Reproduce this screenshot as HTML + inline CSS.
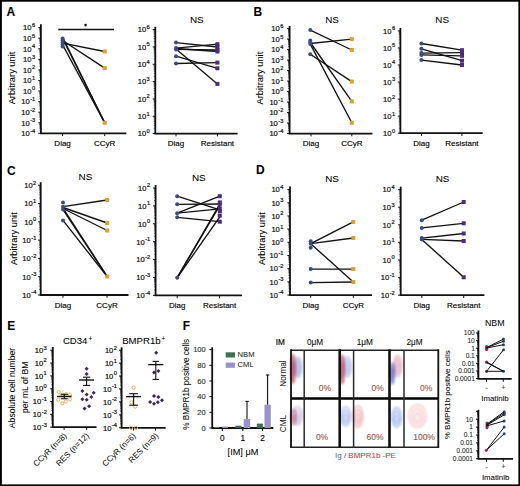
<!DOCTYPE html>
<html><head><meta charset="utf-8"><style>
html,body{margin:0;padding:0;background:#fff;}
svg{display:block;font-family:"Liberation Sans",sans-serif;}
</style></head><body>
<svg width="520" height="486" viewBox="0 0 520 486">
<rect width="520" height="486" fill="#fff"/>
<rect x="0" y="0" width="520" height="1.7" fill="#000"/><rect x="0" y="0" width="1.9" height="486" fill="#000"/><rect x="518.4" y="0" width="1.6" height="486" fill="#000"/><rect x="0" y="484.4" width="520" height="1.6" fill="#000"/>
<text x="6.60" y="15.60" font-size="12" text-anchor="start" fill="#000" font-weight="bold" stroke="#000" stroke-width="0.06" >A</text>
<text x="253.60" y="15.60" font-size="12" text-anchor="start" fill="#000" font-weight="bold" stroke="#000" stroke-width="0.06" >B</text>
<text x="7.00" y="174.80" font-size="12" text-anchor="start" fill="#000" font-weight="bold" stroke="#000" stroke-width="0.06" >C</text>
<text x="256.00" y="174.30" font-size="12" text-anchor="start" fill="#000" font-weight="bold" stroke="#000" stroke-width="0.06" >D</text>
<text x="7.30" y="329.90" font-size="12" text-anchor="start" fill="#000" font-weight="bold" stroke="#000" stroke-width="0.06" >E</text>
<text x="182.80" y="329.90" font-size="12" text-anchor="start" fill="#000" font-weight="bold" stroke="#000" stroke-width="0.06" >F</text>
<text transform="translate(14.80,78.00) rotate(-90)" font-size="9.3" text-anchor="middle" fill="#000" stroke="#000" stroke-width="0.05">Arbitrary unit</text>
<line x1="40.90" y1="24.30" x2="40.90" y2="133.30" stroke="#111" stroke-width="1.8"/>
<line x1="39.30" y1="34.99" x2="40.90" y2="34.99" stroke="#111" stroke-width="0.6"/>
<line x1="39.30" y1="33.13" x2="40.90" y2="33.13" stroke="#111" stroke-width="0.6"/>
<line x1="39.30" y1="31.81" x2="40.90" y2="31.81" stroke="#111" stroke-width="0.6"/>
<line x1="39.30" y1="30.78" x2="40.90" y2="30.78" stroke="#111" stroke-width="0.6"/>
<line x1="39.30" y1="29.94" x2="40.90" y2="29.94" stroke="#111" stroke-width="0.6"/>
<line x1="39.30" y1="29.24" x2="40.90" y2="29.24" stroke="#111" stroke-width="0.6"/>
<line x1="39.30" y1="28.62" x2="40.90" y2="28.62" stroke="#111" stroke-width="0.6"/>
<line x1="39.30" y1="28.08" x2="40.90" y2="28.08" stroke="#111" stroke-width="0.6"/>
<line x1="39.30" y1="45.56" x2="40.90" y2="45.56" stroke="#111" stroke-width="0.6"/>
<line x1="39.30" y1="43.70" x2="40.90" y2="43.70" stroke="#111" stroke-width="0.6"/>
<line x1="39.30" y1="42.38" x2="40.90" y2="42.38" stroke="#111" stroke-width="0.6"/>
<line x1="39.30" y1="41.35" x2="40.90" y2="41.35" stroke="#111" stroke-width="0.6"/>
<line x1="39.30" y1="40.51" x2="40.90" y2="40.51" stroke="#111" stroke-width="0.6"/>
<line x1="39.30" y1="39.81" x2="40.90" y2="39.81" stroke="#111" stroke-width="0.6"/>
<line x1="39.30" y1="39.19" x2="40.90" y2="39.19" stroke="#111" stroke-width="0.6"/>
<line x1="39.30" y1="38.65" x2="40.90" y2="38.65" stroke="#111" stroke-width="0.6"/>
<line x1="39.30" y1="56.13" x2="40.90" y2="56.13" stroke="#111" stroke-width="0.6"/>
<line x1="39.30" y1="54.27" x2="40.90" y2="54.27" stroke="#111" stroke-width="0.6"/>
<line x1="39.30" y1="52.95" x2="40.90" y2="52.95" stroke="#111" stroke-width="0.6"/>
<line x1="39.30" y1="51.92" x2="40.90" y2="51.92" stroke="#111" stroke-width="0.6"/>
<line x1="39.30" y1="51.08" x2="40.90" y2="51.08" stroke="#111" stroke-width="0.6"/>
<line x1="39.30" y1="50.38" x2="40.90" y2="50.38" stroke="#111" stroke-width="0.6"/>
<line x1="39.30" y1="49.76" x2="40.90" y2="49.76" stroke="#111" stroke-width="0.6"/>
<line x1="39.30" y1="49.22" x2="40.90" y2="49.22" stroke="#111" stroke-width="0.6"/>
<line x1="39.30" y1="66.70" x2="40.90" y2="66.70" stroke="#111" stroke-width="0.6"/>
<line x1="39.30" y1="64.84" x2="40.90" y2="64.84" stroke="#111" stroke-width="0.6"/>
<line x1="39.30" y1="63.52" x2="40.90" y2="63.52" stroke="#111" stroke-width="0.6"/>
<line x1="39.30" y1="62.49" x2="40.90" y2="62.49" stroke="#111" stroke-width="0.6"/>
<line x1="39.30" y1="61.65" x2="40.90" y2="61.65" stroke="#111" stroke-width="0.6"/>
<line x1="39.30" y1="60.95" x2="40.90" y2="60.95" stroke="#111" stroke-width="0.6"/>
<line x1="39.30" y1="60.33" x2="40.90" y2="60.33" stroke="#111" stroke-width="0.6"/>
<line x1="39.30" y1="59.79" x2="40.90" y2="59.79" stroke="#111" stroke-width="0.6"/>
<line x1="39.30" y1="77.27" x2="40.90" y2="77.27" stroke="#111" stroke-width="0.6"/>
<line x1="39.30" y1="75.41" x2="40.90" y2="75.41" stroke="#111" stroke-width="0.6"/>
<line x1="39.30" y1="74.09" x2="40.90" y2="74.09" stroke="#111" stroke-width="0.6"/>
<line x1="39.30" y1="73.06" x2="40.90" y2="73.06" stroke="#111" stroke-width="0.6"/>
<line x1="39.30" y1="72.22" x2="40.90" y2="72.22" stroke="#111" stroke-width="0.6"/>
<line x1="39.30" y1="71.52" x2="40.90" y2="71.52" stroke="#111" stroke-width="0.6"/>
<line x1="39.30" y1="70.90" x2="40.90" y2="70.90" stroke="#111" stroke-width="0.6"/>
<line x1="39.30" y1="70.36" x2="40.90" y2="70.36" stroke="#111" stroke-width="0.6"/>
<line x1="39.30" y1="87.84" x2="40.90" y2="87.84" stroke="#111" stroke-width="0.6"/>
<line x1="39.30" y1="85.98" x2="40.90" y2="85.98" stroke="#111" stroke-width="0.6"/>
<line x1="39.30" y1="84.66" x2="40.90" y2="84.66" stroke="#111" stroke-width="0.6"/>
<line x1="39.30" y1="83.63" x2="40.90" y2="83.63" stroke="#111" stroke-width="0.6"/>
<line x1="39.30" y1="82.79" x2="40.90" y2="82.79" stroke="#111" stroke-width="0.6"/>
<line x1="39.30" y1="82.09" x2="40.90" y2="82.09" stroke="#111" stroke-width="0.6"/>
<line x1="39.30" y1="81.47" x2="40.90" y2="81.47" stroke="#111" stroke-width="0.6"/>
<line x1="39.30" y1="80.93" x2="40.90" y2="80.93" stroke="#111" stroke-width="0.6"/>
<line x1="39.30" y1="98.41" x2="40.90" y2="98.41" stroke="#111" stroke-width="0.6"/>
<line x1="39.30" y1="96.55" x2="40.90" y2="96.55" stroke="#111" stroke-width="0.6"/>
<line x1="39.30" y1="95.23" x2="40.90" y2="95.23" stroke="#111" stroke-width="0.6"/>
<line x1="39.30" y1="94.20" x2="40.90" y2="94.20" stroke="#111" stroke-width="0.6"/>
<line x1="39.30" y1="93.36" x2="40.90" y2="93.36" stroke="#111" stroke-width="0.6"/>
<line x1="39.30" y1="92.66" x2="40.90" y2="92.66" stroke="#111" stroke-width="0.6"/>
<line x1="39.30" y1="92.04" x2="40.90" y2="92.04" stroke="#111" stroke-width="0.6"/>
<line x1="39.30" y1="91.50" x2="40.90" y2="91.50" stroke="#111" stroke-width="0.6"/>
<line x1="39.30" y1="108.98" x2="40.90" y2="108.98" stroke="#111" stroke-width="0.6"/>
<line x1="39.30" y1="107.12" x2="40.90" y2="107.12" stroke="#111" stroke-width="0.6"/>
<line x1="39.30" y1="105.80" x2="40.90" y2="105.80" stroke="#111" stroke-width="0.6"/>
<line x1="39.30" y1="104.77" x2="40.90" y2="104.77" stroke="#111" stroke-width="0.6"/>
<line x1="39.30" y1="103.93" x2="40.90" y2="103.93" stroke="#111" stroke-width="0.6"/>
<line x1="39.30" y1="103.23" x2="40.90" y2="103.23" stroke="#111" stroke-width="0.6"/>
<line x1="39.30" y1="102.61" x2="40.90" y2="102.61" stroke="#111" stroke-width="0.6"/>
<line x1="39.30" y1="102.07" x2="40.90" y2="102.07" stroke="#111" stroke-width="0.6"/>
<line x1="39.30" y1="119.55" x2="40.90" y2="119.55" stroke="#111" stroke-width="0.6"/>
<line x1="39.30" y1="117.69" x2="40.90" y2="117.69" stroke="#111" stroke-width="0.6"/>
<line x1="39.30" y1="116.37" x2="40.90" y2="116.37" stroke="#111" stroke-width="0.6"/>
<line x1="39.30" y1="115.34" x2="40.90" y2="115.34" stroke="#111" stroke-width="0.6"/>
<line x1="39.30" y1="114.50" x2="40.90" y2="114.50" stroke="#111" stroke-width="0.6"/>
<line x1="39.30" y1="113.80" x2="40.90" y2="113.80" stroke="#111" stroke-width="0.6"/>
<line x1="39.30" y1="113.18" x2="40.90" y2="113.18" stroke="#111" stroke-width="0.6"/>
<line x1="39.30" y1="112.64" x2="40.90" y2="112.64" stroke="#111" stroke-width="0.6"/>
<line x1="39.30" y1="130.12" x2="40.90" y2="130.12" stroke="#111" stroke-width="0.6"/>
<line x1="39.30" y1="128.26" x2="40.90" y2="128.26" stroke="#111" stroke-width="0.6"/>
<line x1="39.30" y1="126.94" x2="40.90" y2="126.94" stroke="#111" stroke-width="0.6"/>
<line x1="39.30" y1="125.91" x2="40.90" y2="125.91" stroke="#111" stroke-width="0.6"/>
<line x1="39.30" y1="125.07" x2="40.90" y2="125.07" stroke="#111" stroke-width="0.6"/>
<line x1="39.30" y1="124.37" x2="40.90" y2="124.37" stroke="#111" stroke-width="0.6"/>
<line x1="39.30" y1="123.75" x2="40.90" y2="123.75" stroke="#111" stroke-width="0.6"/>
<line x1="39.30" y1="123.21" x2="40.90" y2="123.21" stroke="#111" stroke-width="0.6"/>
<line x1="38.30" y1="27.60" x2="40.90" y2="27.60" stroke="#111" stroke-width="1.0"/>
<text transform="translate(35.20,30.40) scale(0.95,1)" font-size="8.0" text-anchor="end" fill="#111" stroke="#111" stroke-width="0.22">10<tspan dx="0.5" dy="-3.4" font-size="6.0">6</tspan></text>
<line x1="38.30" y1="38.17" x2="40.90" y2="38.17" stroke="#111" stroke-width="1.0"/>
<text transform="translate(35.20,40.97) scale(0.95,1)" font-size="8.0" text-anchor="end" fill="#111" stroke="#111" stroke-width="0.22">10<tspan dx="0.5" dy="-3.4" font-size="6.0">5</tspan></text>
<line x1="38.30" y1="48.74" x2="40.90" y2="48.74" stroke="#111" stroke-width="1.0"/>
<text transform="translate(35.20,51.54) scale(0.95,1)" font-size="8.0" text-anchor="end" fill="#111" stroke="#111" stroke-width="0.22">10<tspan dx="0.5" dy="-3.4" font-size="6.0">4</tspan></text>
<line x1="38.30" y1="59.31" x2="40.90" y2="59.31" stroke="#111" stroke-width="1.0"/>
<text transform="translate(35.20,62.11) scale(0.95,1)" font-size="8.0" text-anchor="end" fill="#111" stroke="#111" stroke-width="0.22">10<tspan dx="0.5" dy="-3.4" font-size="6.0">3</tspan></text>
<line x1="38.30" y1="69.88" x2="40.90" y2="69.88" stroke="#111" stroke-width="1.0"/>
<text transform="translate(35.20,72.68) scale(0.95,1)" font-size="8.0" text-anchor="end" fill="#111" stroke="#111" stroke-width="0.22">10<tspan dx="0.5" dy="-3.4" font-size="6.0">2</tspan></text>
<line x1="38.30" y1="80.45" x2="40.90" y2="80.45" stroke="#111" stroke-width="1.0"/>
<text transform="translate(35.20,83.25) scale(0.95,1)" font-size="8.0" text-anchor="end" fill="#111" stroke="#111" stroke-width="0.22">10<tspan dx="0.5" dy="-3.4" font-size="6.0">1</tspan></text>
<line x1="38.30" y1="91.02" x2="40.90" y2="91.02" stroke="#111" stroke-width="1.0"/>
<text transform="translate(35.20,93.82) scale(0.95,1)" font-size="8.0" text-anchor="end" fill="#111" stroke="#111" stroke-width="0.22">10<tspan dx="0.5" dy="-3.4" font-size="6.0">0</tspan></text>
<line x1="38.30" y1="101.59" x2="40.90" y2="101.59" stroke="#111" stroke-width="1.0"/>
<text transform="translate(35.20,104.39) scale(0.95,1)" font-size="8.0" text-anchor="end" fill="#111" stroke="#111" stroke-width="0.22">10<tspan dx="0.5" dy="-3.4" font-size="6.0">-1</tspan></text>
<line x1="38.30" y1="112.16" x2="40.90" y2="112.16" stroke="#111" stroke-width="1.0"/>
<text transform="translate(35.20,114.96) scale(0.95,1)" font-size="8.0" text-anchor="end" fill="#111" stroke="#111" stroke-width="0.22">10<tspan dx="0.5" dy="-3.4" font-size="6.0">-2</tspan></text>
<line x1="38.30" y1="122.73" x2="40.90" y2="122.73" stroke="#111" stroke-width="1.0"/>
<text transform="translate(35.20,125.53) scale(0.95,1)" font-size="8.0" text-anchor="end" fill="#111" stroke="#111" stroke-width="0.22">10<tspan dx="0.5" dy="-3.4" font-size="6.0">-3</tspan></text>
<line x1="38.30" y1="133.30" x2="40.90" y2="133.30" stroke="#111" stroke-width="1.0"/>
<text transform="translate(35.20,136.10) scale(0.95,1)" font-size="8.0" text-anchor="end" fill="#111" stroke="#111" stroke-width="0.22">10<tspan dx="0.5" dy="-3.4" font-size="6.0">-4</tspan></text>
<line x1="40.00" y1="133.30" x2="126.30" y2="133.30" stroke="#111" stroke-width="1.8"/>
<line x1="62.60" y1="133.30" x2="62.60" y2="136.10" stroke="#111" stroke-width="1.0"/>
<text x="62.60" y="146.30" font-size="8" text-anchor="middle" fill="#000" font-weight="normal" stroke="#000" stroke-width="0.14" >Diag</text>
<line x1="104.70" y1="133.30" x2="104.70" y2="136.10" stroke="#111" stroke-width="1.0"/>
<text x="104.70" y="146.30" font-size="8" text-anchor="middle" fill="#000" font-weight="normal" stroke="#000" stroke-width="0.14" >CCyR</text>
<line x1="58.30" y1="29.50" x2="114.00" y2="29.50" stroke="#111" stroke-width="1.4"/>
<circle cx="85.60" cy="25.10" r="1.3" fill="#111"/>
<line x1="62.60" y1="43.20" x2="104.70" y2="51.50" stroke="#111" stroke-width="1.35"/>
<line x1="62.60" y1="40.50" x2="104.70" y2="68.10" stroke="#111" stroke-width="1.35"/>
<line x1="62.60" y1="37.20" x2="104.70" y2="122.80" stroke="#111" stroke-width="1.35"/>
<line x1="62.60" y1="38.40" x2="104.70" y2="122.80" stroke="#111" stroke-width="1.35"/>
<line x1="62.60" y1="44.90" x2="104.70" y2="122.80" stroke="#111" stroke-width="1.35"/>
<circle cx="62.60" cy="38.50" r="2.0" fill="#3b4d7e"/>
<circle cx="62.60" cy="40.50" r="2.0" fill="#3b4d7e"/>
<circle cx="62.60" cy="42.50" r="2.0" fill="#3b4d7e"/>
<circle cx="62.60" cy="44.50" r="2.0" fill="#3b4d7e"/>
<circle cx="62.60" cy="46.50" r="2.0" fill="#3b4d7e"/>
<rect x="102.70" y="49.50" width="4.0" height="4.0" fill="#d9a033"/>
<rect x="102.70" y="66.10" width="4.0" height="4.0" fill="#d9a033"/>
<rect x="102.70" y="120.80" width="4.0" height="4.0" fill="#d9a033"/>
<line x1="155.30" y1="26.80" x2="155.30" y2="133.58" stroke="#111" stroke-width="1.8"/>
<line x1="153.70" y1="41.71" x2="155.30" y2="41.71" stroke="#111" stroke-width="0.6"/>
<line x1="153.70" y1="38.66" x2="155.30" y2="38.66" stroke="#111" stroke-width="0.6"/>
<line x1="153.70" y1="36.50" x2="155.30" y2="36.50" stroke="#111" stroke-width="0.6"/>
<line x1="153.70" y1="34.82" x2="155.30" y2="34.82" stroke="#111" stroke-width="0.6"/>
<line x1="153.70" y1="33.44" x2="155.30" y2="33.44" stroke="#111" stroke-width="0.6"/>
<line x1="153.70" y1="32.28" x2="155.30" y2="32.28" stroke="#111" stroke-width="0.6"/>
<line x1="153.70" y1="31.28" x2="155.30" y2="31.28" stroke="#111" stroke-width="0.6"/>
<line x1="153.70" y1="30.39" x2="155.30" y2="30.39" stroke="#111" stroke-width="0.6"/>
<line x1="153.70" y1="59.04" x2="155.30" y2="59.04" stroke="#111" stroke-width="0.6"/>
<line x1="153.70" y1="55.99" x2="155.30" y2="55.99" stroke="#111" stroke-width="0.6"/>
<line x1="153.70" y1="53.83" x2="155.30" y2="53.83" stroke="#111" stroke-width="0.6"/>
<line x1="153.70" y1="52.15" x2="155.30" y2="52.15" stroke="#111" stroke-width="0.6"/>
<line x1="153.70" y1="50.77" x2="155.30" y2="50.77" stroke="#111" stroke-width="0.6"/>
<line x1="153.70" y1="49.61" x2="155.30" y2="49.61" stroke="#111" stroke-width="0.6"/>
<line x1="153.70" y1="48.61" x2="155.30" y2="48.61" stroke="#111" stroke-width="0.6"/>
<line x1="153.70" y1="47.72" x2="155.30" y2="47.72" stroke="#111" stroke-width="0.6"/>
<line x1="153.70" y1="76.37" x2="155.30" y2="76.37" stroke="#111" stroke-width="0.6"/>
<line x1="153.70" y1="73.32" x2="155.30" y2="73.32" stroke="#111" stroke-width="0.6"/>
<line x1="153.70" y1="71.16" x2="155.30" y2="71.16" stroke="#111" stroke-width="0.6"/>
<line x1="153.70" y1="69.48" x2="155.30" y2="69.48" stroke="#111" stroke-width="0.6"/>
<line x1="153.70" y1="68.10" x2="155.30" y2="68.10" stroke="#111" stroke-width="0.6"/>
<line x1="153.70" y1="66.94" x2="155.30" y2="66.94" stroke="#111" stroke-width="0.6"/>
<line x1="153.70" y1="65.94" x2="155.30" y2="65.94" stroke="#111" stroke-width="0.6"/>
<line x1="153.70" y1="65.05" x2="155.30" y2="65.05" stroke="#111" stroke-width="0.6"/>
<line x1="153.70" y1="93.70" x2="155.30" y2="93.70" stroke="#111" stroke-width="0.6"/>
<line x1="153.70" y1="90.65" x2="155.30" y2="90.65" stroke="#111" stroke-width="0.6"/>
<line x1="153.70" y1="88.49" x2="155.30" y2="88.49" stroke="#111" stroke-width="0.6"/>
<line x1="153.70" y1="86.81" x2="155.30" y2="86.81" stroke="#111" stroke-width="0.6"/>
<line x1="153.70" y1="85.43" x2="155.30" y2="85.43" stroke="#111" stroke-width="0.6"/>
<line x1="153.70" y1="84.27" x2="155.30" y2="84.27" stroke="#111" stroke-width="0.6"/>
<line x1="153.70" y1="83.27" x2="155.30" y2="83.27" stroke="#111" stroke-width="0.6"/>
<line x1="153.70" y1="82.38" x2="155.30" y2="82.38" stroke="#111" stroke-width="0.6"/>
<line x1="153.70" y1="111.03" x2="155.30" y2="111.03" stroke="#111" stroke-width="0.6"/>
<line x1="153.70" y1="107.98" x2="155.30" y2="107.98" stroke="#111" stroke-width="0.6"/>
<line x1="153.70" y1="105.82" x2="155.30" y2="105.82" stroke="#111" stroke-width="0.6"/>
<line x1="153.70" y1="104.14" x2="155.30" y2="104.14" stroke="#111" stroke-width="0.6"/>
<line x1="153.70" y1="102.76" x2="155.30" y2="102.76" stroke="#111" stroke-width="0.6"/>
<line x1="153.70" y1="101.60" x2="155.30" y2="101.60" stroke="#111" stroke-width="0.6"/>
<line x1="153.70" y1="100.60" x2="155.30" y2="100.60" stroke="#111" stroke-width="0.6"/>
<line x1="153.70" y1="99.71" x2="155.30" y2="99.71" stroke="#111" stroke-width="0.6"/>
<line x1="153.70" y1="128.36" x2="155.30" y2="128.36" stroke="#111" stroke-width="0.6"/>
<line x1="153.70" y1="125.31" x2="155.30" y2="125.31" stroke="#111" stroke-width="0.6"/>
<line x1="153.70" y1="123.15" x2="155.30" y2="123.15" stroke="#111" stroke-width="0.6"/>
<line x1="153.70" y1="121.47" x2="155.30" y2="121.47" stroke="#111" stroke-width="0.6"/>
<line x1="153.70" y1="120.09" x2="155.30" y2="120.09" stroke="#111" stroke-width="0.6"/>
<line x1="153.70" y1="118.93" x2="155.30" y2="118.93" stroke="#111" stroke-width="0.6"/>
<line x1="153.70" y1="117.93" x2="155.30" y2="117.93" stroke="#111" stroke-width="0.6"/>
<line x1="153.70" y1="117.04" x2="155.30" y2="117.04" stroke="#111" stroke-width="0.6"/>
<line x1="152.70" y1="29.60" x2="155.30" y2="29.60" stroke="#111" stroke-width="1.0"/>
<text transform="translate(149.80,32.40) scale(0.95,1)" font-size="8.0" text-anchor="end" fill="#111" stroke="#111" stroke-width="0.22">10<tspan dx="0.5" dy="-3.4" font-size="6.0">6</tspan></text>
<line x1="152.70" y1="46.93" x2="155.30" y2="46.93" stroke="#111" stroke-width="1.0"/>
<text transform="translate(149.80,49.73) scale(0.95,1)" font-size="8.0" text-anchor="end" fill="#111" stroke="#111" stroke-width="0.22">10<tspan dx="0.5" dy="-3.4" font-size="6.0">5</tspan></text>
<line x1="152.70" y1="64.26" x2="155.30" y2="64.26" stroke="#111" stroke-width="1.0"/>
<text transform="translate(149.80,67.06) scale(0.95,1)" font-size="8.0" text-anchor="end" fill="#111" stroke="#111" stroke-width="0.22">10<tspan dx="0.5" dy="-3.4" font-size="6.0">4</tspan></text>
<line x1="152.70" y1="81.59" x2="155.30" y2="81.59" stroke="#111" stroke-width="1.0"/>
<text transform="translate(149.80,84.39) scale(0.95,1)" font-size="8.0" text-anchor="end" fill="#111" stroke="#111" stroke-width="0.22">10<tspan dx="0.5" dy="-3.4" font-size="6.0">3</tspan></text>
<line x1="152.70" y1="98.92" x2="155.30" y2="98.92" stroke="#111" stroke-width="1.0"/>
<text transform="translate(149.80,101.72) scale(0.95,1)" font-size="8.0" text-anchor="end" fill="#111" stroke="#111" stroke-width="0.22">10<tspan dx="0.5" dy="-3.4" font-size="6.0">2</tspan></text>
<line x1="152.70" y1="116.25" x2="155.30" y2="116.25" stroke="#111" stroke-width="1.0"/>
<text transform="translate(149.80,119.05) scale(0.95,1)" font-size="8.0" text-anchor="end" fill="#111" stroke="#111" stroke-width="0.22">10<tspan dx="0.5" dy="-3.4" font-size="6.0">1</tspan></text>
<line x1="152.70" y1="133.58" x2="155.30" y2="133.58" stroke="#111" stroke-width="1.0"/>
<text transform="translate(149.80,136.38) scale(0.95,1)" font-size="8.0" text-anchor="end" fill="#111" stroke="#111" stroke-width="0.22">10<tspan dx="0.5" dy="-3.4" font-size="6.0">0</tspan></text>
<line x1="154.40" y1="133.58" x2="237.60" y2="133.58" stroke="#111" stroke-width="1.8"/>
<line x1="176.00" y1="133.58" x2="176.00" y2="136.38" stroke="#111" stroke-width="1.0"/>
<text x="176.00" y="146.30" font-size="8" text-anchor="middle" fill="#000" font-weight="normal" stroke="#000" stroke-width="0.14" >Diag</text>
<line x1="217.40" y1="133.58" x2="217.40" y2="136.38" stroke="#111" stroke-width="1.0"/>
<text x="217.40" y="146.30" font-size="8" text-anchor="middle" fill="#000" font-weight="normal" stroke="#000" stroke-width="0.14" >Resistant</text>
<text x="196.80" y="22.80" font-size="9.9" text-anchor="middle" fill="#000" font-weight="normal" stroke="#000" stroke-width="0.06" >NS</text>
<line x1="176.00" y1="42.60" x2="217.40" y2="47.00" stroke="#111" stroke-width="1.35"/>
<line x1="176.00" y1="48.10" x2="217.40" y2="44.20" stroke="#111" stroke-width="1.35"/>
<line x1="176.00" y1="49.40" x2="217.40" y2="50.00" stroke="#111" stroke-width="1.35"/>
<line x1="176.00" y1="56.20" x2="217.40" y2="68.30" stroke="#111" stroke-width="1.35"/>
<line x1="176.00" y1="63.50" x2="217.40" y2="62.60" stroke="#111" stroke-width="1.35"/>
<line x1="176.00" y1="49.00" x2="217.40" y2="83.90" stroke="#111" stroke-width="1.35"/>
<line x1="176.00" y1="48.50" x2="217.40" y2="51.50" stroke="#111" stroke-width="1.35"/>
<circle cx="176.00" cy="42.60" r="2.0" fill="#3b4d7e"/>
<circle cx="176.00" cy="48.10" r="2.0" fill="#3b4d7e"/>
<circle cx="176.00" cy="49.40" r="2.0" fill="#3b4d7e"/>
<circle cx="176.00" cy="56.20" r="2.0" fill="#3b4d7e"/>
<circle cx="176.00" cy="63.50" r="2.0" fill="#3b4d7e"/>
<rect x="215.40" y="42.20" width="4.0" height="4.0" fill="#4c2c7e"/>
<rect x="215.40" y="45.00" width="4.0" height="4.0" fill="#4c2c7e"/>
<rect x="215.40" y="48.00" width="4.0" height="4.0" fill="#4c2c7e"/>
<rect x="215.40" y="49.50" width="4.0" height="4.0" fill="#4c2c7e"/>
<rect x="215.40" y="60.60" width="4.0" height="4.0" fill="#4c2c7e"/>
<rect x="215.40" y="66.30" width="4.0" height="4.0" fill="#4c2c7e"/>
<rect x="215.40" y="81.90" width="4.0" height="4.0" fill="#4c2c7e"/>
<text transform="translate(262.50,78.10) rotate(-90)" font-size="9.3" text-anchor="middle" fill="#000" stroke="#000" stroke-width="0.05">Arbitrary unit</text>
<line x1="289.60" y1="26.00" x2="289.60" y2="133.60" stroke="#111" stroke-width="1.8"/>
<line x1="288.00" y1="35.94" x2="289.60" y2="35.94" stroke="#111" stroke-width="0.6"/>
<line x1="288.00" y1="34.09" x2="289.60" y2="34.09" stroke="#111" stroke-width="0.6"/>
<line x1="288.00" y1="32.78" x2="289.60" y2="32.78" stroke="#111" stroke-width="0.6"/>
<line x1="288.00" y1="31.76" x2="289.60" y2="31.76" stroke="#111" stroke-width="0.6"/>
<line x1="288.00" y1="30.93" x2="289.60" y2="30.93" stroke="#111" stroke-width="0.6"/>
<line x1="288.00" y1="30.23" x2="289.60" y2="30.23" stroke="#111" stroke-width="0.6"/>
<line x1="288.00" y1="29.62" x2="289.60" y2="29.62" stroke="#111" stroke-width="0.6"/>
<line x1="288.00" y1="29.08" x2="289.60" y2="29.08" stroke="#111" stroke-width="0.6"/>
<line x1="288.00" y1="46.44" x2="289.60" y2="46.44" stroke="#111" stroke-width="0.6"/>
<line x1="288.00" y1="44.59" x2="289.60" y2="44.59" stroke="#111" stroke-width="0.6"/>
<line x1="288.00" y1="43.28" x2="289.60" y2="43.28" stroke="#111" stroke-width="0.6"/>
<line x1="288.00" y1="42.26" x2="289.60" y2="42.26" stroke="#111" stroke-width="0.6"/>
<line x1="288.00" y1="41.43" x2="289.60" y2="41.43" stroke="#111" stroke-width="0.6"/>
<line x1="288.00" y1="40.73" x2="289.60" y2="40.73" stroke="#111" stroke-width="0.6"/>
<line x1="288.00" y1="40.12" x2="289.60" y2="40.12" stroke="#111" stroke-width="0.6"/>
<line x1="288.00" y1="39.58" x2="289.60" y2="39.58" stroke="#111" stroke-width="0.6"/>
<line x1="288.00" y1="56.94" x2="289.60" y2="56.94" stroke="#111" stroke-width="0.6"/>
<line x1="288.00" y1="55.09" x2="289.60" y2="55.09" stroke="#111" stroke-width="0.6"/>
<line x1="288.00" y1="53.78" x2="289.60" y2="53.78" stroke="#111" stroke-width="0.6"/>
<line x1="288.00" y1="52.76" x2="289.60" y2="52.76" stroke="#111" stroke-width="0.6"/>
<line x1="288.00" y1="51.93" x2="289.60" y2="51.93" stroke="#111" stroke-width="0.6"/>
<line x1="288.00" y1="51.23" x2="289.60" y2="51.23" stroke="#111" stroke-width="0.6"/>
<line x1="288.00" y1="50.62" x2="289.60" y2="50.62" stroke="#111" stroke-width="0.6"/>
<line x1="288.00" y1="50.08" x2="289.60" y2="50.08" stroke="#111" stroke-width="0.6"/>
<line x1="288.00" y1="67.44" x2="289.60" y2="67.44" stroke="#111" stroke-width="0.6"/>
<line x1="288.00" y1="65.59" x2="289.60" y2="65.59" stroke="#111" stroke-width="0.6"/>
<line x1="288.00" y1="64.28" x2="289.60" y2="64.28" stroke="#111" stroke-width="0.6"/>
<line x1="288.00" y1="63.26" x2="289.60" y2="63.26" stroke="#111" stroke-width="0.6"/>
<line x1="288.00" y1="62.43" x2="289.60" y2="62.43" stroke="#111" stroke-width="0.6"/>
<line x1="288.00" y1="61.73" x2="289.60" y2="61.73" stroke="#111" stroke-width="0.6"/>
<line x1="288.00" y1="61.12" x2="289.60" y2="61.12" stroke="#111" stroke-width="0.6"/>
<line x1="288.00" y1="60.58" x2="289.60" y2="60.58" stroke="#111" stroke-width="0.6"/>
<line x1="288.00" y1="77.94" x2="289.60" y2="77.94" stroke="#111" stroke-width="0.6"/>
<line x1="288.00" y1="76.09" x2="289.60" y2="76.09" stroke="#111" stroke-width="0.6"/>
<line x1="288.00" y1="74.78" x2="289.60" y2="74.78" stroke="#111" stroke-width="0.6"/>
<line x1="288.00" y1="73.76" x2="289.60" y2="73.76" stroke="#111" stroke-width="0.6"/>
<line x1="288.00" y1="72.93" x2="289.60" y2="72.93" stroke="#111" stroke-width="0.6"/>
<line x1="288.00" y1="72.23" x2="289.60" y2="72.23" stroke="#111" stroke-width="0.6"/>
<line x1="288.00" y1="71.62" x2="289.60" y2="71.62" stroke="#111" stroke-width="0.6"/>
<line x1="288.00" y1="71.08" x2="289.60" y2="71.08" stroke="#111" stroke-width="0.6"/>
<line x1="288.00" y1="88.44" x2="289.60" y2="88.44" stroke="#111" stroke-width="0.6"/>
<line x1="288.00" y1="86.59" x2="289.60" y2="86.59" stroke="#111" stroke-width="0.6"/>
<line x1="288.00" y1="85.28" x2="289.60" y2="85.28" stroke="#111" stroke-width="0.6"/>
<line x1="288.00" y1="84.26" x2="289.60" y2="84.26" stroke="#111" stroke-width="0.6"/>
<line x1="288.00" y1="83.43" x2="289.60" y2="83.43" stroke="#111" stroke-width="0.6"/>
<line x1="288.00" y1="82.73" x2="289.60" y2="82.73" stroke="#111" stroke-width="0.6"/>
<line x1="288.00" y1="82.12" x2="289.60" y2="82.12" stroke="#111" stroke-width="0.6"/>
<line x1="288.00" y1="81.58" x2="289.60" y2="81.58" stroke="#111" stroke-width="0.6"/>
<line x1="288.00" y1="98.94" x2="289.60" y2="98.94" stroke="#111" stroke-width="0.6"/>
<line x1="288.00" y1="97.09" x2="289.60" y2="97.09" stroke="#111" stroke-width="0.6"/>
<line x1="288.00" y1="95.78" x2="289.60" y2="95.78" stroke="#111" stroke-width="0.6"/>
<line x1="288.00" y1="94.76" x2="289.60" y2="94.76" stroke="#111" stroke-width="0.6"/>
<line x1="288.00" y1="93.93" x2="289.60" y2="93.93" stroke="#111" stroke-width="0.6"/>
<line x1="288.00" y1="93.23" x2="289.60" y2="93.23" stroke="#111" stroke-width="0.6"/>
<line x1="288.00" y1="92.62" x2="289.60" y2="92.62" stroke="#111" stroke-width="0.6"/>
<line x1="288.00" y1="92.08" x2="289.60" y2="92.08" stroke="#111" stroke-width="0.6"/>
<line x1="288.00" y1="109.44" x2="289.60" y2="109.44" stroke="#111" stroke-width="0.6"/>
<line x1="288.00" y1="107.59" x2="289.60" y2="107.59" stroke="#111" stroke-width="0.6"/>
<line x1="288.00" y1="106.28" x2="289.60" y2="106.28" stroke="#111" stroke-width="0.6"/>
<line x1="288.00" y1="105.26" x2="289.60" y2="105.26" stroke="#111" stroke-width="0.6"/>
<line x1="288.00" y1="104.43" x2="289.60" y2="104.43" stroke="#111" stroke-width="0.6"/>
<line x1="288.00" y1="103.73" x2="289.60" y2="103.73" stroke="#111" stroke-width="0.6"/>
<line x1="288.00" y1="103.12" x2="289.60" y2="103.12" stroke="#111" stroke-width="0.6"/>
<line x1="288.00" y1="102.58" x2="289.60" y2="102.58" stroke="#111" stroke-width="0.6"/>
<line x1="288.00" y1="119.94" x2="289.60" y2="119.94" stroke="#111" stroke-width="0.6"/>
<line x1="288.00" y1="118.09" x2="289.60" y2="118.09" stroke="#111" stroke-width="0.6"/>
<line x1="288.00" y1="116.78" x2="289.60" y2="116.78" stroke="#111" stroke-width="0.6"/>
<line x1="288.00" y1="115.76" x2="289.60" y2="115.76" stroke="#111" stroke-width="0.6"/>
<line x1="288.00" y1="114.93" x2="289.60" y2="114.93" stroke="#111" stroke-width="0.6"/>
<line x1="288.00" y1="114.23" x2="289.60" y2="114.23" stroke="#111" stroke-width="0.6"/>
<line x1="288.00" y1="113.62" x2="289.60" y2="113.62" stroke="#111" stroke-width="0.6"/>
<line x1="288.00" y1="113.08" x2="289.60" y2="113.08" stroke="#111" stroke-width="0.6"/>
<line x1="288.00" y1="130.44" x2="289.60" y2="130.44" stroke="#111" stroke-width="0.6"/>
<line x1="288.00" y1="128.59" x2="289.60" y2="128.59" stroke="#111" stroke-width="0.6"/>
<line x1="288.00" y1="127.28" x2="289.60" y2="127.28" stroke="#111" stroke-width="0.6"/>
<line x1="288.00" y1="126.26" x2="289.60" y2="126.26" stroke="#111" stroke-width="0.6"/>
<line x1="288.00" y1="125.43" x2="289.60" y2="125.43" stroke="#111" stroke-width="0.6"/>
<line x1="288.00" y1="124.73" x2="289.60" y2="124.73" stroke="#111" stroke-width="0.6"/>
<line x1="288.00" y1="124.12" x2="289.60" y2="124.12" stroke="#111" stroke-width="0.6"/>
<line x1="288.00" y1="123.58" x2="289.60" y2="123.58" stroke="#111" stroke-width="0.6"/>
<line x1="287.00" y1="28.60" x2="289.60" y2="28.60" stroke="#111" stroke-width="1.0"/>
<text transform="translate(283.40,31.40) scale(0.95,1)" font-size="8.0" text-anchor="end" fill="#111" stroke="#111" stroke-width="0.22">10<tspan dx="0.5" dy="-3.4" font-size="6.0">6</tspan></text>
<line x1="287.00" y1="39.10" x2="289.60" y2="39.10" stroke="#111" stroke-width="1.0"/>
<text transform="translate(283.40,41.90) scale(0.95,1)" font-size="8.0" text-anchor="end" fill="#111" stroke="#111" stroke-width="0.22">10<tspan dx="0.5" dy="-3.4" font-size="6.0">5</tspan></text>
<line x1="287.00" y1="49.60" x2="289.60" y2="49.60" stroke="#111" stroke-width="1.0"/>
<text transform="translate(283.40,52.40) scale(0.95,1)" font-size="8.0" text-anchor="end" fill="#111" stroke="#111" stroke-width="0.22">10<tspan dx="0.5" dy="-3.4" font-size="6.0">4</tspan></text>
<line x1="287.00" y1="60.10" x2="289.60" y2="60.10" stroke="#111" stroke-width="1.0"/>
<text transform="translate(283.40,62.90) scale(0.95,1)" font-size="8.0" text-anchor="end" fill="#111" stroke="#111" stroke-width="0.22">10<tspan dx="0.5" dy="-3.4" font-size="6.0">3</tspan></text>
<line x1="287.00" y1="70.60" x2="289.60" y2="70.60" stroke="#111" stroke-width="1.0"/>
<text transform="translate(283.40,73.40) scale(0.95,1)" font-size="8.0" text-anchor="end" fill="#111" stroke="#111" stroke-width="0.22">10<tspan dx="0.5" dy="-3.4" font-size="6.0">2</tspan></text>
<line x1="287.00" y1="81.10" x2="289.60" y2="81.10" stroke="#111" stroke-width="1.0"/>
<text transform="translate(283.40,83.90) scale(0.95,1)" font-size="8.0" text-anchor="end" fill="#111" stroke="#111" stroke-width="0.22">10<tspan dx="0.5" dy="-3.4" font-size="6.0">1</tspan></text>
<line x1="287.00" y1="91.60" x2="289.60" y2="91.60" stroke="#111" stroke-width="1.0"/>
<text transform="translate(283.40,94.40) scale(0.95,1)" font-size="8.0" text-anchor="end" fill="#111" stroke="#111" stroke-width="0.22">10<tspan dx="0.5" dy="-3.4" font-size="6.0">0</tspan></text>
<line x1="287.00" y1="102.10" x2="289.60" y2="102.10" stroke="#111" stroke-width="1.0"/>
<text transform="translate(283.40,104.90) scale(0.95,1)" font-size="8.0" text-anchor="end" fill="#111" stroke="#111" stroke-width="0.22">10<tspan dx="0.5" dy="-3.4" font-size="6.0">-1</tspan></text>
<line x1="287.00" y1="112.60" x2="289.60" y2="112.60" stroke="#111" stroke-width="1.0"/>
<text transform="translate(283.40,115.40) scale(0.95,1)" font-size="8.0" text-anchor="end" fill="#111" stroke="#111" stroke-width="0.22">10<tspan dx="0.5" dy="-3.4" font-size="6.0">-2</tspan></text>
<line x1="287.00" y1="123.10" x2="289.60" y2="123.10" stroke="#111" stroke-width="1.0"/>
<text transform="translate(283.40,125.90) scale(0.95,1)" font-size="8.0" text-anchor="end" fill="#111" stroke="#111" stroke-width="0.22">10<tspan dx="0.5" dy="-3.4" font-size="6.0">-3</tspan></text>
<line x1="287.00" y1="133.60" x2="289.60" y2="133.60" stroke="#111" stroke-width="1.0"/>
<text transform="translate(283.40,136.40) scale(0.95,1)" font-size="8.0" text-anchor="end" fill="#111" stroke="#111" stroke-width="0.22">10<tspan dx="0.5" dy="-3.4" font-size="6.0">-4</tspan></text>
<line x1="288.70" y1="133.60" x2="372.40" y2="133.60" stroke="#111" stroke-width="1.8"/>
<line x1="311.00" y1="133.60" x2="311.00" y2="136.40" stroke="#111" stroke-width="1.0"/>
<text x="311.00" y="146.30" font-size="8" text-anchor="middle" fill="#000" font-weight="normal" stroke="#000" stroke-width="0.14" >Diag</text>
<line x1="351.80" y1="133.60" x2="351.80" y2="136.40" stroke="#111" stroke-width="1.0"/>
<text x="351.80" y="146.30" font-size="8" text-anchor="middle" fill="#000" font-weight="normal" stroke="#000" stroke-width="0.14" >CCyR</text>
<text x="332.00" y="23.00" font-size="9.9" text-anchor="middle" fill="#000" font-weight="normal" stroke="#000" stroke-width="0.06" >NS</text>
<line x1="310.30" y1="30.10" x2="351.80" y2="50.00" stroke="#111" stroke-width="1.35"/>
<line x1="310.30" y1="43.50" x2="351.80" y2="39.10" stroke="#111" stroke-width="1.35"/>
<line x1="310.30" y1="42.50" x2="351.80" y2="101.40" stroke="#111" stroke-width="1.35"/>
<line x1="310.30" y1="44.10" x2="351.80" y2="122.80" stroke="#111" stroke-width="1.35"/>
<line x1="310.30" y1="54.30" x2="351.80" y2="81.60" stroke="#111" stroke-width="1.35"/>
<circle cx="310.30" cy="30.10" r="2.0" fill="#3b4d7e"/>
<circle cx="310.30" cy="40.40" r="2.0" fill="#3b4d7e"/>
<circle cx="310.30" cy="42.50" r="2.0" fill="#3b4d7e"/>
<circle cx="310.30" cy="44.10" r="2.0" fill="#3b4d7e"/>
<circle cx="310.30" cy="54.30" r="2.0" fill="#3b4d7e"/>
<rect x="349.80" y="37.10" width="4.0" height="4.0" fill="#d9a033"/>
<rect x="349.80" y="48.00" width="4.0" height="4.0" fill="#d9a033"/>
<rect x="349.80" y="79.60" width="4.0" height="4.0" fill="#d9a033"/>
<rect x="349.80" y="99.40" width="4.0" height="4.0" fill="#d9a033"/>
<rect x="349.80" y="120.80" width="4.0" height="4.0" fill="#d9a033"/>
<line x1="400.40" y1="28.00" x2="400.40" y2="133.20" stroke="#111" stroke-width="1.8"/>
<line x1="398.80" y1="42.82" x2="400.40" y2="42.82" stroke="#111" stroke-width="0.6"/>
<line x1="398.80" y1="39.82" x2="400.40" y2="39.82" stroke="#111" stroke-width="0.6"/>
<line x1="398.80" y1="37.68" x2="400.40" y2="37.68" stroke="#111" stroke-width="0.6"/>
<line x1="398.80" y1="36.03" x2="400.40" y2="36.03" stroke="#111" stroke-width="0.6"/>
<line x1="398.80" y1="34.68" x2="400.40" y2="34.68" stroke="#111" stroke-width="0.6"/>
<line x1="398.80" y1="33.54" x2="400.40" y2="33.54" stroke="#111" stroke-width="0.6"/>
<line x1="398.80" y1="32.55" x2="400.40" y2="32.55" stroke="#111" stroke-width="0.6"/>
<line x1="398.80" y1="31.68" x2="400.40" y2="31.68" stroke="#111" stroke-width="0.6"/>
<line x1="398.80" y1="59.87" x2="400.40" y2="59.87" stroke="#111" stroke-width="0.6"/>
<line x1="398.80" y1="56.87" x2="400.40" y2="56.87" stroke="#111" stroke-width="0.6"/>
<line x1="398.80" y1="54.73" x2="400.40" y2="54.73" stroke="#111" stroke-width="0.6"/>
<line x1="398.80" y1="53.08" x2="400.40" y2="53.08" stroke="#111" stroke-width="0.6"/>
<line x1="398.80" y1="51.73" x2="400.40" y2="51.73" stroke="#111" stroke-width="0.6"/>
<line x1="398.80" y1="50.59" x2="400.40" y2="50.59" stroke="#111" stroke-width="0.6"/>
<line x1="398.80" y1="49.60" x2="400.40" y2="49.60" stroke="#111" stroke-width="0.6"/>
<line x1="398.80" y1="48.73" x2="400.40" y2="48.73" stroke="#111" stroke-width="0.6"/>
<line x1="398.80" y1="76.92" x2="400.40" y2="76.92" stroke="#111" stroke-width="0.6"/>
<line x1="398.80" y1="73.92" x2="400.40" y2="73.92" stroke="#111" stroke-width="0.6"/>
<line x1="398.80" y1="71.78" x2="400.40" y2="71.78" stroke="#111" stroke-width="0.6"/>
<line x1="398.80" y1="70.13" x2="400.40" y2="70.13" stroke="#111" stroke-width="0.6"/>
<line x1="398.80" y1="68.78" x2="400.40" y2="68.78" stroke="#111" stroke-width="0.6"/>
<line x1="398.80" y1="67.64" x2="400.40" y2="67.64" stroke="#111" stroke-width="0.6"/>
<line x1="398.80" y1="66.65" x2="400.40" y2="66.65" stroke="#111" stroke-width="0.6"/>
<line x1="398.80" y1="65.78" x2="400.40" y2="65.78" stroke="#111" stroke-width="0.6"/>
<line x1="398.80" y1="93.97" x2="400.40" y2="93.97" stroke="#111" stroke-width="0.6"/>
<line x1="398.80" y1="90.97" x2="400.40" y2="90.97" stroke="#111" stroke-width="0.6"/>
<line x1="398.80" y1="88.83" x2="400.40" y2="88.83" stroke="#111" stroke-width="0.6"/>
<line x1="398.80" y1="87.18" x2="400.40" y2="87.18" stroke="#111" stroke-width="0.6"/>
<line x1="398.80" y1="85.83" x2="400.40" y2="85.83" stroke="#111" stroke-width="0.6"/>
<line x1="398.80" y1="84.69" x2="400.40" y2="84.69" stroke="#111" stroke-width="0.6"/>
<line x1="398.80" y1="83.70" x2="400.40" y2="83.70" stroke="#111" stroke-width="0.6"/>
<line x1="398.80" y1="82.83" x2="400.40" y2="82.83" stroke="#111" stroke-width="0.6"/>
<line x1="398.80" y1="111.02" x2="400.40" y2="111.02" stroke="#111" stroke-width="0.6"/>
<line x1="398.80" y1="108.02" x2="400.40" y2="108.02" stroke="#111" stroke-width="0.6"/>
<line x1="398.80" y1="105.88" x2="400.40" y2="105.88" stroke="#111" stroke-width="0.6"/>
<line x1="398.80" y1="104.23" x2="400.40" y2="104.23" stroke="#111" stroke-width="0.6"/>
<line x1="398.80" y1="102.88" x2="400.40" y2="102.88" stroke="#111" stroke-width="0.6"/>
<line x1="398.80" y1="101.74" x2="400.40" y2="101.74" stroke="#111" stroke-width="0.6"/>
<line x1="398.80" y1="100.75" x2="400.40" y2="100.75" stroke="#111" stroke-width="0.6"/>
<line x1="398.80" y1="99.88" x2="400.40" y2="99.88" stroke="#111" stroke-width="0.6"/>
<line x1="398.80" y1="128.07" x2="400.40" y2="128.07" stroke="#111" stroke-width="0.6"/>
<line x1="398.80" y1="125.07" x2="400.40" y2="125.07" stroke="#111" stroke-width="0.6"/>
<line x1="398.80" y1="122.93" x2="400.40" y2="122.93" stroke="#111" stroke-width="0.6"/>
<line x1="398.80" y1="121.28" x2="400.40" y2="121.28" stroke="#111" stroke-width="0.6"/>
<line x1="398.80" y1="119.93" x2="400.40" y2="119.93" stroke="#111" stroke-width="0.6"/>
<line x1="398.80" y1="118.79" x2="400.40" y2="118.79" stroke="#111" stroke-width="0.6"/>
<line x1="398.80" y1="117.80" x2="400.40" y2="117.80" stroke="#111" stroke-width="0.6"/>
<line x1="398.80" y1="116.93" x2="400.40" y2="116.93" stroke="#111" stroke-width="0.6"/>
<line x1="397.80" y1="30.90" x2="400.40" y2="30.90" stroke="#111" stroke-width="1.0"/>
<text transform="translate(395.10,33.70) scale(0.95,1)" font-size="8.0" text-anchor="end" fill="#111" stroke="#111" stroke-width="0.22">10<tspan dx="0.5" dy="-3.4" font-size="6.0">6</tspan></text>
<line x1="397.80" y1="47.95" x2="400.40" y2="47.95" stroke="#111" stroke-width="1.0"/>
<text transform="translate(395.10,50.75) scale(0.95,1)" font-size="8.0" text-anchor="end" fill="#111" stroke="#111" stroke-width="0.22">10<tspan dx="0.5" dy="-3.4" font-size="6.0">5</tspan></text>
<line x1="397.80" y1="65.00" x2="400.40" y2="65.00" stroke="#111" stroke-width="1.0"/>
<text transform="translate(395.10,67.80) scale(0.95,1)" font-size="8.0" text-anchor="end" fill="#111" stroke="#111" stroke-width="0.22">10<tspan dx="0.5" dy="-3.4" font-size="6.0">4</tspan></text>
<line x1="397.80" y1="82.05" x2="400.40" y2="82.05" stroke="#111" stroke-width="1.0"/>
<text transform="translate(395.10,84.85) scale(0.95,1)" font-size="8.0" text-anchor="end" fill="#111" stroke="#111" stroke-width="0.22">10<tspan dx="0.5" dy="-3.4" font-size="6.0">3</tspan></text>
<line x1="397.80" y1="99.10" x2="400.40" y2="99.10" stroke="#111" stroke-width="1.0"/>
<text transform="translate(395.10,101.90) scale(0.95,1)" font-size="8.0" text-anchor="end" fill="#111" stroke="#111" stroke-width="0.22">10<tspan dx="0.5" dy="-3.4" font-size="6.0">2</tspan></text>
<line x1="397.80" y1="116.15" x2="400.40" y2="116.15" stroke="#111" stroke-width="1.0"/>
<text transform="translate(395.10,118.95) scale(0.95,1)" font-size="8.0" text-anchor="end" fill="#111" stroke="#111" stroke-width="0.22">10<tspan dx="0.5" dy="-3.4" font-size="6.0">1</tspan></text>
<line x1="397.80" y1="133.20" x2="400.40" y2="133.20" stroke="#111" stroke-width="1.0"/>
<text transform="translate(395.10,136.00) scale(0.95,1)" font-size="8.0" text-anchor="end" fill="#111" stroke="#111" stroke-width="0.22">10<tspan dx="0.5" dy="-3.4" font-size="6.0">0</tspan></text>
<line x1="399.50" y1="133.20" x2="482.70" y2="133.20" stroke="#111" stroke-width="1.8"/>
<line x1="421.50" y1="133.20" x2="421.50" y2="136.00" stroke="#111" stroke-width="1.0"/>
<text x="421.50" y="146.30" font-size="8" text-anchor="middle" fill="#000" font-weight="normal" stroke="#000" stroke-width="0.14" >Diag</text>
<line x1="461.90" y1="133.20" x2="461.90" y2="136.00" stroke="#111" stroke-width="1.0"/>
<text x="461.90" y="146.30" font-size="8" text-anchor="middle" fill="#000" font-weight="normal" stroke="#000" stroke-width="0.14" >Resistant</text>
<text x="442.20" y="23.00" font-size="9.9" text-anchor="middle" fill="#000" font-weight="normal" stroke="#000" stroke-width="0.06" >NS</text>
<line x1="421.40" y1="43.50" x2="462.00" y2="50.20" stroke="#111" stroke-width="1.35"/>
<line x1="421.40" y1="48.80" x2="462.00" y2="60.70" stroke="#111" stroke-width="1.35"/>
<line x1="421.40" y1="53.10" x2="462.00" y2="52.70" stroke="#111" stroke-width="1.35"/>
<line x1="421.40" y1="54.90" x2="462.00" y2="55.80" stroke="#111" stroke-width="1.35"/>
<line x1="421.40" y1="60.10" x2="462.00" y2="65.00" stroke="#111" stroke-width="1.35"/>
<circle cx="421.40" cy="43.50" r="2.0" fill="#3b4d7e"/>
<circle cx="421.40" cy="48.80" r="2.0" fill="#3b4d7e"/>
<circle cx="421.40" cy="53.10" r="2.0" fill="#3b4d7e"/>
<circle cx="421.40" cy="54.90" r="2.0" fill="#3b4d7e"/>
<circle cx="421.40" cy="60.10" r="2.0" fill="#3b4d7e"/>
<rect x="460.00" y="48.20" width="4.0" height="4.0" fill="#4c2c7e"/>
<rect x="460.00" y="50.70" width="4.0" height="4.0" fill="#4c2c7e"/>
<rect x="460.00" y="53.80" width="4.0" height="4.0" fill="#4c2c7e"/>
<rect x="460.00" y="58.70" width="4.0" height="4.0" fill="#4c2c7e"/>
<rect x="460.00" y="63.00" width="4.0" height="4.0" fill="#4c2c7e"/>
<text transform="translate(16.60,238.60) rotate(-90)" font-size="9.3" text-anchor="middle" fill="#000" stroke="#000" stroke-width="0.05">Arbitrary unit</text>
<line x1="40.70" y1="182.20" x2="40.70" y2="294.98" stroke="#111" stroke-width="1.8"/>
<line x1="39.10" y1="198.08" x2="40.70" y2="198.08" stroke="#111" stroke-width="0.6"/>
<line x1="39.10" y1="194.86" x2="40.70" y2="194.86" stroke="#111" stroke-width="0.6"/>
<line x1="39.10" y1="192.57" x2="40.70" y2="192.57" stroke="#111" stroke-width="0.6"/>
<line x1="39.10" y1="190.80" x2="40.70" y2="190.80" stroke="#111" stroke-width="0.6"/>
<line x1="39.10" y1="189.36" x2="40.70" y2="189.36" stroke="#111" stroke-width="0.6"/>
<line x1="39.10" y1="188.13" x2="40.70" y2="188.13" stroke="#111" stroke-width="0.6"/>
<line x1="39.10" y1="187.07" x2="40.70" y2="187.07" stroke="#111" stroke-width="0.6"/>
<line x1="39.10" y1="186.14" x2="40.70" y2="186.14" stroke="#111" stroke-width="0.6"/>
<line x1="39.10" y1="216.36" x2="40.70" y2="216.36" stroke="#111" stroke-width="0.6"/>
<line x1="39.10" y1="213.14" x2="40.70" y2="213.14" stroke="#111" stroke-width="0.6"/>
<line x1="39.10" y1="210.85" x2="40.70" y2="210.85" stroke="#111" stroke-width="0.6"/>
<line x1="39.10" y1="209.08" x2="40.70" y2="209.08" stroke="#111" stroke-width="0.6"/>
<line x1="39.10" y1="207.64" x2="40.70" y2="207.64" stroke="#111" stroke-width="0.6"/>
<line x1="39.10" y1="206.41" x2="40.70" y2="206.41" stroke="#111" stroke-width="0.6"/>
<line x1="39.10" y1="205.35" x2="40.70" y2="205.35" stroke="#111" stroke-width="0.6"/>
<line x1="39.10" y1="204.42" x2="40.70" y2="204.42" stroke="#111" stroke-width="0.6"/>
<line x1="39.10" y1="234.64" x2="40.70" y2="234.64" stroke="#111" stroke-width="0.6"/>
<line x1="39.10" y1="231.42" x2="40.70" y2="231.42" stroke="#111" stroke-width="0.6"/>
<line x1="39.10" y1="229.13" x2="40.70" y2="229.13" stroke="#111" stroke-width="0.6"/>
<line x1="39.10" y1="227.36" x2="40.70" y2="227.36" stroke="#111" stroke-width="0.6"/>
<line x1="39.10" y1="225.92" x2="40.70" y2="225.92" stroke="#111" stroke-width="0.6"/>
<line x1="39.10" y1="224.69" x2="40.70" y2="224.69" stroke="#111" stroke-width="0.6"/>
<line x1="39.10" y1="223.63" x2="40.70" y2="223.63" stroke="#111" stroke-width="0.6"/>
<line x1="39.10" y1="222.70" x2="40.70" y2="222.70" stroke="#111" stroke-width="0.6"/>
<line x1="39.10" y1="252.92" x2="40.70" y2="252.92" stroke="#111" stroke-width="0.6"/>
<line x1="39.10" y1="249.70" x2="40.70" y2="249.70" stroke="#111" stroke-width="0.6"/>
<line x1="39.10" y1="247.41" x2="40.70" y2="247.41" stroke="#111" stroke-width="0.6"/>
<line x1="39.10" y1="245.64" x2="40.70" y2="245.64" stroke="#111" stroke-width="0.6"/>
<line x1="39.10" y1="244.20" x2="40.70" y2="244.20" stroke="#111" stroke-width="0.6"/>
<line x1="39.10" y1="242.97" x2="40.70" y2="242.97" stroke="#111" stroke-width="0.6"/>
<line x1="39.10" y1="241.91" x2="40.70" y2="241.91" stroke="#111" stroke-width="0.6"/>
<line x1="39.10" y1="240.98" x2="40.70" y2="240.98" stroke="#111" stroke-width="0.6"/>
<line x1="39.10" y1="271.20" x2="40.70" y2="271.20" stroke="#111" stroke-width="0.6"/>
<line x1="39.10" y1="267.98" x2="40.70" y2="267.98" stroke="#111" stroke-width="0.6"/>
<line x1="39.10" y1="265.69" x2="40.70" y2="265.69" stroke="#111" stroke-width="0.6"/>
<line x1="39.10" y1="263.92" x2="40.70" y2="263.92" stroke="#111" stroke-width="0.6"/>
<line x1="39.10" y1="262.48" x2="40.70" y2="262.48" stroke="#111" stroke-width="0.6"/>
<line x1="39.10" y1="261.25" x2="40.70" y2="261.25" stroke="#111" stroke-width="0.6"/>
<line x1="39.10" y1="260.19" x2="40.70" y2="260.19" stroke="#111" stroke-width="0.6"/>
<line x1="39.10" y1="259.26" x2="40.70" y2="259.26" stroke="#111" stroke-width="0.6"/>
<line x1="39.10" y1="289.48" x2="40.70" y2="289.48" stroke="#111" stroke-width="0.6"/>
<line x1="39.10" y1="286.26" x2="40.70" y2="286.26" stroke="#111" stroke-width="0.6"/>
<line x1="39.10" y1="283.97" x2="40.70" y2="283.97" stroke="#111" stroke-width="0.6"/>
<line x1="39.10" y1="282.20" x2="40.70" y2="282.20" stroke="#111" stroke-width="0.6"/>
<line x1="39.10" y1="280.76" x2="40.70" y2="280.76" stroke="#111" stroke-width="0.6"/>
<line x1="39.10" y1="279.53" x2="40.70" y2="279.53" stroke="#111" stroke-width="0.6"/>
<line x1="39.10" y1="278.47" x2="40.70" y2="278.47" stroke="#111" stroke-width="0.6"/>
<line x1="39.10" y1="277.54" x2="40.70" y2="277.54" stroke="#111" stroke-width="0.6"/>
<line x1="38.10" y1="185.30" x2="40.70" y2="185.30" stroke="#111" stroke-width="1.0"/>
<text transform="translate(36.30,188.10) scale(0.95,1)" font-size="8.0" text-anchor="end" fill="#111" stroke="#111" stroke-width="0.22">10<tspan dx="0.5" dy="-3.4" font-size="6.0">2</tspan></text>
<line x1="38.10" y1="203.58" x2="40.70" y2="203.58" stroke="#111" stroke-width="1.0"/>
<text transform="translate(36.30,206.38) scale(0.95,1)" font-size="8.0" text-anchor="end" fill="#111" stroke="#111" stroke-width="0.22">10<tspan dx="0.5" dy="-3.4" font-size="6.0">1</tspan></text>
<line x1="38.10" y1="221.86" x2="40.70" y2="221.86" stroke="#111" stroke-width="1.0"/>
<text transform="translate(36.30,224.66) scale(0.95,1)" font-size="8.0" text-anchor="end" fill="#111" stroke="#111" stroke-width="0.22">10<tspan dx="0.5" dy="-3.4" font-size="6.0">0</tspan></text>
<line x1="38.10" y1="240.14" x2="40.70" y2="240.14" stroke="#111" stroke-width="1.0"/>
<text transform="translate(36.30,242.94) scale(0.95,1)" font-size="8.0" text-anchor="end" fill="#111" stroke="#111" stroke-width="0.22">10<tspan dx="0.5" dy="-3.4" font-size="6.0">-1</tspan></text>
<line x1="38.10" y1="258.42" x2="40.70" y2="258.42" stroke="#111" stroke-width="1.0"/>
<text transform="translate(36.30,261.22) scale(0.95,1)" font-size="8.0" text-anchor="end" fill="#111" stroke="#111" stroke-width="0.22">10<tspan dx="0.5" dy="-3.4" font-size="6.0">-2</tspan></text>
<line x1="38.10" y1="276.70" x2="40.70" y2="276.70" stroke="#111" stroke-width="1.0"/>
<text transform="translate(36.30,279.50) scale(0.95,1)" font-size="8.0" text-anchor="end" fill="#111" stroke="#111" stroke-width="0.22">10<tspan dx="0.5" dy="-3.4" font-size="6.0">-3</tspan></text>
<line x1="38.10" y1="294.98" x2="40.70" y2="294.98" stroke="#111" stroke-width="1.0"/>
<text transform="translate(36.30,297.78) scale(0.95,1)" font-size="8.0" text-anchor="end" fill="#111" stroke="#111" stroke-width="0.22">10<tspan dx="0.5" dy="-3.4" font-size="6.0">-4</tspan></text>
<line x1="39.80" y1="294.98" x2="128.50" y2="294.98" stroke="#111" stroke-width="1.8"/>
<line x1="63.00" y1="294.98" x2="63.00" y2="297.78" stroke="#111" stroke-width="1.0"/>
<text x="63.00" y="308.20" font-size="8" text-anchor="middle" fill="#000" font-weight="normal" stroke="#000" stroke-width="0.14" >Diag</text>
<line x1="107.00" y1="294.98" x2="107.00" y2="297.78" stroke="#111" stroke-width="1.0"/>
<text x="107.00" y="308.20" font-size="8" text-anchor="middle" fill="#000" font-weight="normal" stroke="#000" stroke-width="0.14" >CCyR</text>
<text x="85.40" y="180.40" font-size="9.9" text-anchor="middle" fill="#000" font-weight="normal" stroke="#000" stroke-width="0.06" >NS</text>
<line x1="63.00" y1="206.70" x2="107.20" y2="200.00" stroke="#111" stroke-width="1.35"/>
<line x1="63.00" y1="207.50" x2="107.20" y2="223.00" stroke="#111" stroke-width="1.35"/>
<line x1="63.00" y1="208.50" x2="107.20" y2="230.50" stroke="#111" stroke-width="1.35"/>
<line x1="63.00" y1="220.40" x2="107.20" y2="276.50" stroke="#111" stroke-width="1.35"/>
<line x1="63.00" y1="208.00" x2="107.20" y2="276.50" stroke="#111" stroke-width="1.35"/>
<line x1="63.00" y1="209.60" x2="107.20" y2="276.50" stroke="#111" stroke-width="1.35"/>
<circle cx="63.00" cy="202.40" r="2.0" fill="#3b4d7e"/>
<circle cx="63.00" cy="206.70" r="2.0" fill="#3b4d7e"/>
<circle cx="63.00" cy="209.60" r="2.0" fill="#3b4d7e"/>
<circle cx="63.00" cy="220.40" r="2.0" fill="#3b4d7e"/>
<rect x="105.20" y="198.00" width="4.0" height="4.0" fill="#d9a033"/>
<rect x="105.20" y="221.00" width="4.0" height="4.0" fill="#d9a033"/>
<rect x="105.20" y="228.50" width="4.0" height="4.0" fill="#d9a033"/>
<rect x="105.20" y="274.50" width="4.0" height="4.0" fill="#d9a033"/>
<line x1="155.60" y1="185.10" x2="155.60" y2="295.40" stroke="#111" stroke-width="1.8"/>
<line x1="154.00" y1="200.51" x2="155.60" y2="200.51" stroke="#111" stroke-width="0.6"/>
<line x1="154.00" y1="197.36" x2="155.60" y2="197.36" stroke="#111" stroke-width="0.6"/>
<line x1="154.00" y1="195.12" x2="155.60" y2="195.12" stroke="#111" stroke-width="0.6"/>
<line x1="154.00" y1="193.39" x2="155.60" y2="193.39" stroke="#111" stroke-width="0.6"/>
<line x1="154.00" y1="191.97" x2="155.60" y2="191.97" stroke="#111" stroke-width="0.6"/>
<line x1="154.00" y1="190.77" x2="155.60" y2="190.77" stroke="#111" stroke-width="0.6"/>
<line x1="154.00" y1="189.73" x2="155.60" y2="189.73" stroke="#111" stroke-width="0.6"/>
<line x1="154.00" y1="188.82" x2="155.60" y2="188.82" stroke="#111" stroke-width="0.6"/>
<line x1="154.00" y1="218.41" x2="155.60" y2="218.41" stroke="#111" stroke-width="0.6"/>
<line x1="154.00" y1="215.26" x2="155.60" y2="215.26" stroke="#111" stroke-width="0.6"/>
<line x1="154.00" y1="213.02" x2="155.60" y2="213.02" stroke="#111" stroke-width="0.6"/>
<line x1="154.00" y1="211.29" x2="155.60" y2="211.29" stroke="#111" stroke-width="0.6"/>
<line x1="154.00" y1="209.87" x2="155.60" y2="209.87" stroke="#111" stroke-width="0.6"/>
<line x1="154.00" y1="208.67" x2="155.60" y2="208.67" stroke="#111" stroke-width="0.6"/>
<line x1="154.00" y1="207.63" x2="155.60" y2="207.63" stroke="#111" stroke-width="0.6"/>
<line x1="154.00" y1="206.72" x2="155.60" y2="206.72" stroke="#111" stroke-width="0.6"/>
<line x1="154.00" y1="236.31" x2="155.60" y2="236.31" stroke="#111" stroke-width="0.6"/>
<line x1="154.00" y1="233.16" x2="155.60" y2="233.16" stroke="#111" stroke-width="0.6"/>
<line x1="154.00" y1="230.92" x2="155.60" y2="230.92" stroke="#111" stroke-width="0.6"/>
<line x1="154.00" y1="229.19" x2="155.60" y2="229.19" stroke="#111" stroke-width="0.6"/>
<line x1="154.00" y1="227.77" x2="155.60" y2="227.77" stroke="#111" stroke-width="0.6"/>
<line x1="154.00" y1="226.57" x2="155.60" y2="226.57" stroke="#111" stroke-width="0.6"/>
<line x1="154.00" y1="225.53" x2="155.60" y2="225.53" stroke="#111" stroke-width="0.6"/>
<line x1="154.00" y1="224.62" x2="155.60" y2="224.62" stroke="#111" stroke-width="0.6"/>
<line x1="154.00" y1="254.21" x2="155.60" y2="254.21" stroke="#111" stroke-width="0.6"/>
<line x1="154.00" y1="251.06" x2="155.60" y2="251.06" stroke="#111" stroke-width="0.6"/>
<line x1="154.00" y1="248.82" x2="155.60" y2="248.82" stroke="#111" stroke-width="0.6"/>
<line x1="154.00" y1="247.09" x2="155.60" y2="247.09" stroke="#111" stroke-width="0.6"/>
<line x1="154.00" y1="245.67" x2="155.60" y2="245.67" stroke="#111" stroke-width="0.6"/>
<line x1="154.00" y1="244.47" x2="155.60" y2="244.47" stroke="#111" stroke-width="0.6"/>
<line x1="154.00" y1="243.43" x2="155.60" y2="243.43" stroke="#111" stroke-width="0.6"/>
<line x1="154.00" y1="242.52" x2="155.60" y2="242.52" stroke="#111" stroke-width="0.6"/>
<line x1="154.00" y1="272.11" x2="155.60" y2="272.11" stroke="#111" stroke-width="0.6"/>
<line x1="154.00" y1="268.96" x2="155.60" y2="268.96" stroke="#111" stroke-width="0.6"/>
<line x1="154.00" y1="266.72" x2="155.60" y2="266.72" stroke="#111" stroke-width="0.6"/>
<line x1="154.00" y1="264.99" x2="155.60" y2="264.99" stroke="#111" stroke-width="0.6"/>
<line x1="154.00" y1="263.57" x2="155.60" y2="263.57" stroke="#111" stroke-width="0.6"/>
<line x1="154.00" y1="262.37" x2="155.60" y2="262.37" stroke="#111" stroke-width="0.6"/>
<line x1="154.00" y1="261.33" x2="155.60" y2="261.33" stroke="#111" stroke-width="0.6"/>
<line x1="154.00" y1="260.42" x2="155.60" y2="260.42" stroke="#111" stroke-width="0.6"/>
<line x1="154.00" y1="290.01" x2="155.60" y2="290.01" stroke="#111" stroke-width="0.6"/>
<line x1="154.00" y1="286.86" x2="155.60" y2="286.86" stroke="#111" stroke-width="0.6"/>
<line x1="154.00" y1="284.62" x2="155.60" y2="284.62" stroke="#111" stroke-width="0.6"/>
<line x1="154.00" y1="282.89" x2="155.60" y2="282.89" stroke="#111" stroke-width="0.6"/>
<line x1="154.00" y1="281.47" x2="155.60" y2="281.47" stroke="#111" stroke-width="0.6"/>
<line x1="154.00" y1="280.27" x2="155.60" y2="280.27" stroke="#111" stroke-width="0.6"/>
<line x1="154.00" y1="279.23" x2="155.60" y2="279.23" stroke="#111" stroke-width="0.6"/>
<line x1="154.00" y1="278.32" x2="155.60" y2="278.32" stroke="#111" stroke-width="0.6"/>
<line x1="153.00" y1="188.00" x2="155.60" y2="188.00" stroke="#111" stroke-width="1.0"/>
<text transform="translate(150.20,190.80) scale(0.95,1)" font-size="8.0" text-anchor="end" fill="#111" stroke="#111" stroke-width="0.22">10<tspan dx="0.5" dy="-3.4" font-size="6.0">2</tspan></text>
<line x1="153.00" y1="205.90" x2="155.60" y2="205.90" stroke="#111" stroke-width="1.0"/>
<text transform="translate(150.20,208.70) scale(0.95,1)" font-size="8.0" text-anchor="end" fill="#111" stroke="#111" stroke-width="0.22">10<tspan dx="0.5" dy="-3.4" font-size="6.0">1</tspan></text>
<line x1="153.00" y1="223.80" x2="155.60" y2="223.80" stroke="#111" stroke-width="1.0"/>
<text transform="translate(150.20,226.60) scale(0.95,1)" font-size="8.0" text-anchor="end" fill="#111" stroke="#111" stroke-width="0.22">10<tspan dx="0.5" dy="-3.4" font-size="6.0">0</tspan></text>
<line x1="153.00" y1="241.70" x2="155.60" y2="241.70" stroke="#111" stroke-width="1.0"/>
<text transform="translate(150.20,244.50) scale(0.95,1)" font-size="8.0" text-anchor="end" fill="#111" stroke="#111" stroke-width="0.22">10<tspan dx="0.5" dy="-3.4" font-size="6.0">-1</tspan></text>
<line x1="153.00" y1="259.60" x2="155.60" y2="259.60" stroke="#111" stroke-width="1.0"/>
<text transform="translate(150.20,262.40) scale(0.95,1)" font-size="8.0" text-anchor="end" fill="#111" stroke="#111" stroke-width="0.22">10<tspan dx="0.5" dy="-3.4" font-size="6.0">-2</tspan></text>
<line x1="153.00" y1="277.50" x2="155.60" y2="277.50" stroke="#111" stroke-width="1.0"/>
<text transform="translate(150.20,280.30) scale(0.95,1)" font-size="8.0" text-anchor="end" fill="#111" stroke="#111" stroke-width="0.22">10<tspan dx="0.5" dy="-3.4" font-size="6.0">-3</tspan></text>
<line x1="153.00" y1="295.40" x2="155.60" y2="295.40" stroke="#111" stroke-width="1.0"/>
<text transform="translate(150.20,298.20) scale(0.95,1)" font-size="8.0" text-anchor="end" fill="#111" stroke="#111" stroke-width="0.22">10<tspan dx="0.5" dy="-3.4" font-size="6.0">-4</tspan></text>
<line x1="154.70" y1="295.40" x2="242.00" y2="295.40" stroke="#111" stroke-width="1.8"/>
<line x1="177.20" y1="295.40" x2="177.20" y2="298.20" stroke="#111" stroke-width="1.0"/>
<text x="177.20" y="308.20" font-size="8" text-anchor="middle" fill="#000" font-weight="normal" stroke="#000" stroke-width="0.14" >Diag</text>
<line x1="219.60" y1="295.40" x2="219.60" y2="298.20" stroke="#111" stroke-width="1.0"/>
<text x="219.60" y="308.20" font-size="8" text-anchor="middle" fill="#000" font-weight="normal" stroke="#000" stroke-width="0.14" >Resistant</text>
<text x="198.80" y="181.00" font-size="9.9" text-anchor="middle" fill="#000" font-weight="normal" stroke="#000" stroke-width="0.06" >NS</text>
<line x1="177.20" y1="196.20" x2="219.80" y2="209.80" stroke="#111" stroke-width="1.35"/>
<line x1="177.20" y1="204.30" x2="219.80" y2="204.00" stroke="#111" stroke-width="1.35"/>
<line x1="177.20" y1="213.20" x2="219.80" y2="196.20" stroke="#111" stroke-width="1.35"/>
<line x1="177.20" y1="213.20" x2="219.80" y2="208.80" stroke="#111" stroke-width="1.35"/>
<line x1="177.20" y1="217.30" x2="219.80" y2="221.70" stroke="#111" stroke-width="1.35"/>
<line x1="177.20" y1="277.70" x2="219.80" y2="204.20" stroke="#111" stroke-width="1.35"/>
<line x1="177.20" y1="277.70" x2="219.80" y2="205.40" stroke="#111" stroke-width="1.35"/>
<line x1="177.20" y1="277.70" x2="219.80" y2="216.80" stroke="#111" stroke-width="1.35"/>
<circle cx="177.20" cy="196.20" r="2.0" fill="#3b4d7e"/>
<circle cx="177.20" cy="204.30" r="2.0" fill="#3b4d7e"/>
<circle cx="177.20" cy="213.20" r="2.0" fill="#3b4d7e"/>
<circle cx="177.20" cy="217.30" r="2.0" fill="#3b4d7e"/>
<circle cx="177.20" cy="277.70" r="2.0" fill="#3b4d7e"/>
<rect x="217.80" y="194.20" width="4.0" height="4.0" fill="#4c2c7e"/>
<rect x="217.80" y="200.40" width="4.0" height="4.0" fill="#4c2c7e"/>
<rect x="217.80" y="202.60" width="4.0" height="4.0" fill="#4c2c7e"/>
<rect x="217.80" y="206.80" width="4.0" height="4.0" fill="#4c2c7e"/>
<rect x="217.80" y="209.20" width="4.0" height="4.0" fill="#4c2c7e"/>
<rect x="217.80" y="213.60" width="4.0" height="4.0" fill="#4c2c7e"/>
<rect x="217.80" y="219.70" width="4.0" height="4.0" fill="#4c2c7e"/>
<text transform="translate(265.00,238.60) rotate(-90)" font-size="9.3" text-anchor="middle" fill="#000" stroke="#000" stroke-width="0.05">Arbitrary unit</text>
<line x1="290.00" y1="186.50" x2="290.00" y2="295.04" stroke="#111" stroke-width="1.8"/>
<line x1="288.40" y1="198.81" x2="290.00" y2="198.81" stroke="#111" stroke-width="0.6"/>
<line x1="288.40" y1="196.49" x2="290.00" y2="196.49" stroke="#111" stroke-width="0.6"/>
<line x1="288.40" y1="194.84" x2="290.00" y2="194.84" stroke="#111" stroke-width="0.6"/>
<line x1="288.40" y1="193.57" x2="290.00" y2="193.57" stroke="#111" stroke-width="0.6"/>
<line x1="288.40" y1="192.52" x2="290.00" y2="192.52" stroke="#111" stroke-width="0.6"/>
<line x1="288.40" y1="191.64" x2="290.00" y2="191.64" stroke="#111" stroke-width="0.6"/>
<line x1="288.40" y1="190.88" x2="290.00" y2="190.88" stroke="#111" stroke-width="0.6"/>
<line x1="288.40" y1="190.20" x2="290.00" y2="190.20" stroke="#111" stroke-width="0.6"/>
<line x1="288.40" y1="211.99" x2="290.00" y2="211.99" stroke="#111" stroke-width="0.6"/>
<line x1="288.40" y1="209.67" x2="290.00" y2="209.67" stroke="#111" stroke-width="0.6"/>
<line x1="288.40" y1="208.02" x2="290.00" y2="208.02" stroke="#111" stroke-width="0.6"/>
<line x1="288.40" y1="206.75" x2="290.00" y2="206.75" stroke="#111" stroke-width="0.6"/>
<line x1="288.40" y1="205.70" x2="290.00" y2="205.70" stroke="#111" stroke-width="0.6"/>
<line x1="288.40" y1="204.82" x2="290.00" y2="204.82" stroke="#111" stroke-width="0.6"/>
<line x1="288.40" y1="204.06" x2="290.00" y2="204.06" stroke="#111" stroke-width="0.6"/>
<line x1="288.40" y1="203.38" x2="290.00" y2="203.38" stroke="#111" stroke-width="0.6"/>
<line x1="288.40" y1="225.17" x2="290.00" y2="225.17" stroke="#111" stroke-width="0.6"/>
<line x1="288.40" y1="222.85" x2="290.00" y2="222.85" stroke="#111" stroke-width="0.6"/>
<line x1="288.40" y1="221.20" x2="290.00" y2="221.20" stroke="#111" stroke-width="0.6"/>
<line x1="288.40" y1="219.93" x2="290.00" y2="219.93" stroke="#111" stroke-width="0.6"/>
<line x1="288.40" y1="218.88" x2="290.00" y2="218.88" stroke="#111" stroke-width="0.6"/>
<line x1="288.40" y1="218.00" x2="290.00" y2="218.00" stroke="#111" stroke-width="0.6"/>
<line x1="288.40" y1="217.24" x2="290.00" y2="217.24" stroke="#111" stroke-width="0.6"/>
<line x1="288.40" y1="216.56" x2="290.00" y2="216.56" stroke="#111" stroke-width="0.6"/>
<line x1="288.40" y1="238.35" x2="290.00" y2="238.35" stroke="#111" stroke-width="0.6"/>
<line x1="288.40" y1="236.03" x2="290.00" y2="236.03" stroke="#111" stroke-width="0.6"/>
<line x1="288.40" y1="234.38" x2="290.00" y2="234.38" stroke="#111" stroke-width="0.6"/>
<line x1="288.40" y1="233.11" x2="290.00" y2="233.11" stroke="#111" stroke-width="0.6"/>
<line x1="288.40" y1="232.06" x2="290.00" y2="232.06" stroke="#111" stroke-width="0.6"/>
<line x1="288.40" y1="231.18" x2="290.00" y2="231.18" stroke="#111" stroke-width="0.6"/>
<line x1="288.40" y1="230.42" x2="290.00" y2="230.42" stroke="#111" stroke-width="0.6"/>
<line x1="288.40" y1="229.74" x2="290.00" y2="229.74" stroke="#111" stroke-width="0.6"/>
<line x1="288.40" y1="251.53" x2="290.00" y2="251.53" stroke="#111" stroke-width="0.6"/>
<line x1="288.40" y1="249.21" x2="290.00" y2="249.21" stroke="#111" stroke-width="0.6"/>
<line x1="288.40" y1="247.56" x2="290.00" y2="247.56" stroke="#111" stroke-width="0.6"/>
<line x1="288.40" y1="246.29" x2="290.00" y2="246.29" stroke="#111" stroke-width="0.6"/>
<line x1="288.40" y1="245.24" x2="290.00" y2="245.24" stroke="#111" stroke-width="0.6"/>
<line x1="288.40" y1="244.36" x2="290.00" y2="244.36" stroke="#111" stroke-width="0.6"/>
<line x1="288.40" y1="243.60" x2="290.00" y2="243.60" stroke="#111" stroke-width="0.6"/>
<line x1="288.40" y1="242.92" x2="290.00" y2="242.92" stroke="#111" stroke-width="0.6"/>
<line x1="288.40" y1="264.71" x2="290.00" y2="264.71" stroke="#111" stroke-width="0.6"/>
<line x1="288.40" y1="262.39" x2="290.00" y2="262.39" stroke="#111" stroke-width="0.6"/>
<line x1="288.40" y1="260.74" x2="290.00" y2="260.74" stroke="#111" stroke-width="0.6"/>
<line x1="288.40" y1="259.47" x2="290.00" y2="259.47" stroke="#111" stroke-width="0.6"/>
<line x1="288.40" y1="258.42" x2="290.00" y2="258.42" stroke="#111" stroke-width="0.6"/>
<line x1="288.40" y1="257.54" x2="290.00" y2="257.54" stroke="#111" stroke-width="0.6"/>
<line x1="288.40" y1="256.78" x2="290.00" y2="256.78" stroke="#111" stroke-width="0.6"/>
<line x1="288.40" y1="256.10" x2="290.00" y2="256.10" stroke="#111" stroke-width="0.6"/>
<line x1="288.40" y1="277.89" x2="290.00" y2="277.89" stroke="#111" stroke-width="0.6"/>
<line x1="288.40" y1="275.57" x2="290.00" y2="275.57" stroke="#111" stroke-width="0.6"/>
<line x1="288.40" y1="273.92" x2="290.00" y2="273.92" stroke="#111" stroke-width="0.6"/>
<line x1="288.40" y1="272.65" x2="290.00" y2="272.65" stroke="#111" stroke-width="0.6"/>
<line x1="288.40" y1="271.60" x2="290.00" y2="271.60" stroke="#111" stroke-width="0.6"/>
<line x1="288.40" y1="270.72" x2="290.00" y2="270.72" stroke="#111" stroke-width="0.6"/>
<line x1="288.40" y1="269.96" x2="290.00" y2="269.96" stroke="#111" stroke-width="0.6"/>
<line x1="288.40" y1="269.28" x2="290.00" y2="269.28" stroke="#111" stroke-width="0.6"/>
<line x1="288.40" y1="291.07" x2="290.00" y2="291.07" stroke="#111" stroke-width="0.6"/>
<line x1="288.40" y1="288.75" x2="290.00" y2="288.75" stroke="#111" stroke-width="0.6"/>
<line x1="288.40" y1="287.10" x2="290.00" y2="287.10" stroke="#111" stroke-width="0.6"/>
<line x1="288.40" y1="285.83" x2="290.00" y2="285.83" stroke="#111" stroke-width="0.6"/>
<line x1="288.40" y1="284.78" x2="290.00" y2="284.78" stroke="#111" stroke-width="0.6"/>
<line x1="288.40" y1="283.90" x2="290.00" y2="283.90" stroke="#111" stroke-width="0.6"/>
<line x1="288.40" y1="283.14" x2="290.00" y2="283.14" stroke="#111" stroke-width="0.6"/>
<line x1="288.40" y1="282.46" x2="290.00" y2="282.46" stroke="#111" stroke-width="0.6"/>
<line x1="287.40" y1="189.60" x2="290.00" y2="189.60" stroke="#111" stroke-width="1.0"/>
<text transform="translate(283.50,192.40) scale(0.95,1)" font-size="8.0" text-anchor="end" fill="#111" stroke="#111" stroke-width="0.22">10<tspan dx="0.5" dy="-3.4" font-size="6.0">4</tspan></text>
<line x1="287.40" y1="202.78" x2="290.00" y2="202.78" stroke="#111" stroke-width="1.0"/>
<text transform="translate(283.50,205.58) scale(0.95,1)" font-size="8.0" text-anchor="end" fill="#111" stroke="#111" stroke-width="0.22">10<tspan dx="0.5" dy="-3.4" font-size="6.0">3</tspan></text>
<line x1="287.40" y1="215.96" x2="290.00" y2="215.96" stroke="#111" stroke-width="1.0"/>
<text transform="translate(283.50,218.76) scale(0.95,1)" font-size="8.0" text-anchor="end" fill="#111" stroke="#111" stroke-width="0.22">10<tspan dx="0.5" dy="-3.4" font-size="6.0">2</tspan></text>
<line x1="287.40" y1="229.14" x2="290.00" y2="229.14" stroke="#111" stroke-width="1.0"/>
<text transform="translate(283.50,231.94) scale(0.95,1)" font-size="8.0" text-anchor="end" fill="#111" stroke="#111" stroke-width="0.22">10<tspan dx="0.5" dy="-3.4" font-size="6.0">1</tspan></text>
<line x1="287.40" y1="242.32" x2="290.00" y2="242.32" stroke="#111" stroke-width="1.0"/>
<text transform="translate(283.50,245.12) scale(0.95,1)" font-size="8.0" text-anchor="end" fill="#111" stroke="#111" stroke-width="0.22">10<tspan dx="0.5" dy="-3.4" font-size="6.0">0</tspan></text>
<line x1="287.40" y1="255.50" x2="290.00" y2="255.50" stroke="#111" stroke-width="1.0"/>
<text transform="translate(283.50,258.30) scale(0.95,1)" font-size="8.0" text-anchor="end" fill="#111" stroke="#111" stroke-width="0.22">10<tspan dx="0.5" dy="-3.4" font-size="6.0">-1</tspan></text>
<line x1="287.40" y1="268.68" x2="290.00" y2="268.68" stroke="#111" stroke-width="1.0"/>
<text transform="translate(283.50,271.48) scale(0.95,1)" font-size="8.0" text-anchor="end" fill="#111" stroke="#111" stroke-width="0.22">10<tspan dx="0.5" dy="-3.4" font-size="6.0">-2</tspan></text>
<line x1="287.40" y1="281.86" x2="290.00" y2="281.86" stroke="#111" stroke-width="1.0"/>
<text transform="translate(283.50,284.66) scale(0.95,1)" font-size="8.0" text-anchor="end" fill="#111" stroke="#111" stroke-width="0.22">10<tspan dx="0.5" dy="-3.4" font-size="6.0">-3</tspan></text>
<line x1="287.40" y1="295.04" x2="290.00" y2="295.04" stroke="#111" stroke-width="1.0"/>
<text transform="translate(283.50,297.84) scale(0.95,1)" font-size="8.0" text-anchor="end" fill="#111" stroke="#111" stroke-width="0.22">10<tspan dx="0.5" dy="-3.4" font-size="6.0">-4</tspan></text>
<line x1="289.10" y1="295.04" x2="372.00" y2="295.04" stroke="#111" stroke-width="1.8"/>
<line x1="310.70" y1="295.04" x2="310.70" y2="297.84" stroke="#111" stroke-width="1.0"/>
<text x="310.70" y="308.20" font-size="8" text-anchor="middle" fill="#000" font-weight="normal" stroke="#000" stroke-width="0.14" >Diag</text>
<line x1="353.30" y1="295.04" x2="353.30" y2="297.84" stroke="#111" stroke-width="1.0"/>
<text x="353.30" y="308.20" font-size="8" text-anchor="middle" fill="#000" font-weight="normal" stroke="#000" stroke-width="0.14" >CCyR</text>
<text x="332.10" y="182.20" font-size="9.9" text-anchor="middle" fill="#000" font-weight="normal" stroke="#000" stroke-width="0.06" >NS</text>
<line x1="310.70" y1="243.70" x2="353.30" y2="221.90" stroke="#111" stroke-width="1.35"/>
<line x1="310.70" y1="243.70" x2="353.30" y2="238.00" stroke="#111" stroke-width="1.35"/>
<line x1="310.70" y1="243.70" x2="353.30" y2="282.00" stroke="#111" stroke-width="1.35"/>
<line x1="310.70" y1="269.10" x2="353.30" y2="269.10" stroke="#111" stroke-width="1.35"/>
<line x1="310.70" y1="282.60" x2="353.30" y2="282.00" stroke="#111" stroke-width="1.35"/>
<circle cx="310.70" cy="241.30" r="2.0" fill="#3b4d7e"/>
<circle cx="310.70" cy="243.70" r="2.0" fill="#3b4d7e"/>
<circle cx="310.70" cy="247.80" r="2.0" fill="#3b4d7e"/>
<circle cx="310.70" cy="269.10" r="2.0" fill="#3b4d7e"/>
<circle cx="310.70" cy="282.60" r="2.0" fill="#3b4d7e"/>
<rect x="351.30" y="219.90" width="4.0" height="4.0" fill="#d9a033"/>
<rect x="351.30" y="236.00" width="4.0" height="4.0" fill="#d9a033"/>
<rect x="351.30" y="267.10" width="4.0" height="4.0" fill="#d9a033"/>
<rect x="351.30" y="280.00" width="4.0" height="4.0" fill="#d9a033"/>
<line x1="400.70" y1="186.70" x2="400.70" y2="295.20" stroke="#111" stroke-width="1.8"/>
<line x1="399.10" y1="201.90" x2="400.70" y2="201.90" stroke="#111" stroke-width="0.6"/>
<line x1="399.10" y1="198.80" x2="400.70" y2="198.80" stroke="#111" stroke-width="0.6"/>
<line x1="399.10" y1="196.60" x2="400.70" y2="196.60" stroke="#111" stroke-width="0.6"/>
<line x1="399.10" y1="194.90" x2="400.70" y2="194.90" stroke="#111" stroke-width="0.6"/>
<line x1="399.10" y1="193.50" x2="400.70" y2="193.50" stroke="#111" stroke-width="0.6"/>
<line x1="399.10" y1="192.33" x2="400.70" y2="192.33" stroke="#111" stroke-width="0.6"/>
<line x1="399.10" y1="191.31" x2="400.70" y2="191.31" stroke="#111" stroke-width="0.6"/>
<line x1="399.10" y1="190.41" x2="400.70" y2="190.41" stroke="#111" stroke-width="0.6"/>
<line x1="399.10" y1="219.50" x2="400.70" y2="219.50" stroke="#111" stroke-width="0.6"/>
<line x1="399.10" y1="216.40" x2="400.70" y2="216.40" stroke="#111" stroke-width="0.6"/>
<line x1="399.10" y1="214.20" x2="400.70" y2="214.20" stroke="#111" stroke-width="0.6"/>
<line x1="399.10" y1="212.50" x2="400.70" y2="212.50" stroke="#111" stroke-width="0.6"/>
<line x1="399.10" y1="211.10" x2="400.70" y2="211.10" stroke="#111" stroke-width="0.6"/>
<line x1="399.10" y1="209.93" x2="400.70" y2="209.93" stroke="#111" stroke-width="0.6"/>
<line x1="399.10" y1="208.91" x2="400.70" y2="208.91" stroke="#111" stroke-width="0.6"/>
<line x1="399.10" y1="208.01" x2="400.70" y2="208.01" stroke="#111" stroke-width="0.6"/>
<line x1="399.10" y1="237.10" x2="400.70" y2="237.10" stroke="#111" stroke-width="0.6"/>
<line x1="399.10" y1="234.00" x2="400.70" y2="234.00" stroke="#111" stroke-width="0.6"/>
<line x1="399.10" y1="231.80" x2="400.70" y2="231.80" stroke="#111" stroke-width="0.6"/>
<line x1="399.10" y1="230.10" x2="400.70" y2="230.10" stroke="#111" stroke-width="0.6"/>
<line x1="399.10" y1="228.70" x2="400.70" y2="228.70" stroke="#111" stroke-width="0.6"/>
<line x1="399.10" y1="227.53" x2="400.70" y2="227.53" stroke="#111" stroke-width="0.6"/>
<line x1="399.10" y1="226.51" x2="400.70" y2="226.51" stroke="#111" stroke-width="0.6"/>
<line x1="399.10" y1="225.61" x2="400.70" y2="225.61" stroke="#111" stroke-width="0.6"/>
<line x1="399.10" y1="254.70" x2="400.70" y2="254.70" stroke="#111" stroke-width="0.6"/>
<line x1="399.10" y1="251.60" x2="400.70" y2="251.60" stroke="#111" stroke-width="0.6"/>
<line x1="399.10" y1="249.40" x2="400.70" y2="249.40" stroke="#111" stroke-width="0.6"/>
<line x1="399.10" y1="247.70" x2="400.70" y2="247.70" stroke="#111" stroke-width="0.6"/>
<line x1="399.10" y1="246.30" x2="400.70" y2="246.30" stroke="#111" stroke-width="0.6"/>
<line x1="399.10" y1="245.13" x2="400.70" y2="245.13" stroke="#111" stroke-width="0.6"/>
<line x1="399.10" y1="244.11" x2="400.70" y2="244.11" stroke="#111" stroke-width="0.6"/>
<line x1="399.10" y1="243.21" x2="400.70" y2="243.21" stroke="#111" stroke-width="0.6"/>
<line x1="399.10" y1="272.30" x2="400.70" y2="272.30" stroke="#111" stroke-width="0.6"/>
<line x1="399.10" y1="269.20" x2="400.70" y2="269.20" stroke="#111" stroke-width="0.6"/>
<line x1="399.10" y1="267.00" x2="400.70" y2="267.00" stroke="#111" stroke-width="0.6"/>
<line x1="399.10" y1="265.30" x2="400.70" y2="265.30" stroke="#111" stroke-width="0.6"/>
<line x1="399.10" y1="263.90" x2="400.70" y2="263.90" stroke="#111" stroke-width="0.6"/>
<line x1="399.10" y1="262.73" x2="400.70" y2="262.73" stroke="#111" stroke-width="0.6"/>
<line x1="399.10" y1="261.71" x2="400.70" y2="261.71" stroke="#111" stroke-width="0.6"/>
<line x1="399.10" y1="260.81" x2="400.70" y2="260.81" stroke="#111" stroke-width="0.6"/>
<line x1="399.10" y1="289.90" x2="400.70" y2="289.90" stroke="#111" stroke-width="0.6"/>
<line x1="399.10" y1="286.80" x2="400.70" y2="286.80" stroke="#111" stroke-width="0.6"/>
<line x1="399.10" y1="284.60" x2="400.70" y2="284.60" stroke="#111" stroke-width="0.6"/>
<line x1="399.10" y1="282.90" x2="400.70" y2="282.90" stroke="#111" stroke-width="0.6"/>
<line x1="399.10" y1="281.50" x2="400.70" y2="281.50" stroke="#111" stroke-width="0.6"/>
<line x1="399.10" y1="280.33" x2="400.70" y2="280.33" stroke="#111" stroke-width="0.6"/>
<line x1="399.10" y1="279.31" x2="400.70" y2="279.31" stroke="#111" stroke-width="0.6"/>
<line x1="399.10" y1="278.41" x2="400.70" y2="278.41" stroke="#111" stroke-width="0.6"/>
<line x1="398.10" y1="189.60" x2="400.70" y2="189.60" stroke="#111" stroke-width="1.0"/>
<text transform="translate(394.70,192.40) scale(0.95,1)" font-size="8.0" text-anchor="end" fill="#111" stroke="#111" stroke-width="0.22">10<tspan dx="0.5" dy="-3.4" font-size="6.0">4</tspan></text>
<line x1="398.10" y1="207.20" x2="400.70" y2="207.20" stroke="#111" stroke-width="1.0"/>
<text transform="translate(394.70,210.00) scale(0.95,1)" font-size="8.0" text-anchor="end" fill="#111" stroke="#111" stroke-width="0.22">10<tspan dx="0.5" dy="-3.4" font-size="6.0">3</tspan></text>
<line x1="398.10" y1="224.80" x2="400.70" y2="224.80" stroke="#111" stroke-width="1.0"/>
<text transform="translate(394.70,227.60) scale(0.95,1)" font-size="8.0" text-anchor="end" fill="#111" stroke="#111" stroke-width="0.22">10<tspan dx="0.5" dy="-3.4" font-size="6.0">2</tspan></text>
<line x1="398.10" y1="242.40" x2="400.70" y2="242.40" stroke="#111" stroke-width="1.0"/>
<text transform="translate(394.70,245.20) scale(0.95,1)" font-size="8.0" text-anchor="end" fill="#111" stroke="#111" stroke-width="0.22">10<tspan dx="0.5" dy="-3.4" font-size="6.0">1</tspan></text>
<line x1="398.10" y1="260.00" x2="400.70" y2="260.00" stroke="#111" stroke-width="1.0"/>
<text transform="translate(394.70,262.80) scale(0.95,1)" font-size="8.0" text-anchor="end" fill="#111" stroke="#111" stroke-width="0.22">10<tspan dx="0.5" dy="-3.4" font-size="6.0">0</tspan></text>
<line x1="398.10" y1="277.60" x2="400.70" y2="277.60" stroke="#111" stroke-width="1.0"/>
<text transform="translate(394.70,280.40) scale(0.95,1)" font-size="8.0" text-anchor="end" fill="#111" stroke="#111" stroke-width="0.22">10<tspan dx="0.5" dy="-3.4" font-size="6.0">-1</tspan></text>
<line x1="398.10" y1="295.20" x2="400.70" y2="295.20" stroke="#111" stroke-width="1.0"/>
<text transform="translate(394.70,298.00) scale(0.95,1)" font-size="8.0" text-anchor="end" fill="#111" stroke="#111" stroke-width="0.22">10<tspan dx="0.5" dy="-3.4" font-size="6.0">-2</tspan></text>
<line x1="399.80" y1="295.20" x2="484.40" y2="295.20" stroke="#111" stroke-width="1.8"/>
<line x1="421.80" y1="295.20" x2="421.80" y2="298.00" stroke="#111" stroke-width="1.0"/>
<text x="421.80" y="308.20" font-size="8" text-anchor="middle" fill="#000" font-weight="normal" stroke="#000" stroke-width="0.14" >Diag</text>
<line x1="463.70" y1="295.20" x2="463.70" y2="298.00" stroke="#111" stroke-width="1.0"/>
<text x="463.70" y="308.20" font-size="8" text-anchor="middle" fill="#000" font-weight="normal" stroke="#000" stroke-width="0.14" >Resistant</text>
<text x="442.50" y="182.10" font-size="9.9" text-anchor="middle" fill="#000" font-weight="normal" stroke="#000" stroke-width="0.06" >NS</text>
<line x1="421.80" y1="220.20" x2="463.70" y2="202.00" stroke="#111" stroke-width="1.35"/>
<line x1="421.80" y1="227.90" x2="463.70" y2="223.30" stroke="#111" stroke-width="1.35"/>
<line x1="421.80" y1="238.10" x2="463.70" y2="233.50" stroke="#111" stroke-width="1.35"/>
<line x1="421.80" y1="239.40" x2="463.70" y2="241.00" stroke="#111" stroke-width="1.35"/>
<line x1="421.80" y1="239.40" x2="463.70" y2="277.30" stroke="#111" stroke-width="1.35"/>
<circle cx="421.80" cy="220.20" r="2.0" fill="#3b4d7e"/>
<circle cx="421.80" cy="227.90" r="2.0" fill="#3b4d7e"/>
<circle cx="421.80" cy="238.10" r="2.0" fill="#3b4d7e"/>
<circle cx="421.80" cy="239.40" r="2.0" fill="#3b4d7e"/>
<rect x="461.70" y="200.00" width="4.0" height="4.0" fill="#4c2c7e"/>
<rect x="461.70" y="221.30" width="4.0" height="4.0" fill="#4c2c7e"/>
<rect x="461.70" y="231.50" width="4.0" height="4.0" fill="#4c2c7e"/>
<rect x="461.70" y="239.00" width="4.0" height="4.0" fill="#4c2c7e"/>
<rect x="461.70" y="275.30" width="4.0" height="4.0" fill="#4c2c7e"/>
<text transform="translate(14.60,388.00) rotate(-90)" font-size="8.6" text-anchor="middle" fill="#000" stroke="#000" stroke-width="0.05">Absolute cell number</text>
<text transform="translate(28.40,387.30) rotate(-90)" font-size="8.6" text-anchor="middle" fill="#000" stroke="#000" stroke-width="0.05">per mL of BM</text>
<line x1="52.80" y1="347.00" x2="52.80" y2="427.18" stroke="#111" stroke-width="1.8"/>
<line x1="51.20" y1="359.17" x2="52.80" y2="359.17" stroke="#111" stroke-width="0.6"/>
<line x1="51.20" y1="356.91" x2="52.80" y2="356.91" stroke="#111" stroke-width="0.6"/>
<line x1="51.20" y1="355.31" x2="52.80" y2="355.31" stroke="#111" stroke-width="0.6"/>
<line x1="51.20" y1="354.06" x2="52.80" y2="354.06" stroke="#111" stroke-width="0.6"/>
<line x1="51.20" y1="353.05" x2="52.80" y2="353.05" stroke="#111" stroke-width="0.6"/>
<line x1="51.20" y1="352.19" x2="52.80" y2="352.19" stroke="#111" stroke-width="0.6"/>
<line x1="51.20" y1="351.44" x2="52.80" y2="351.44" stroke="#111" stroke-width="0.6"/>
<line x1="51.20" y1="350.79" x2="52.80" y2="350.79" stroke="#111" stroke-width="0.6"/>
<line x1="51.20" y1="372.00" x2="52.80" y2="372.00" stroke="#111" stroke-width="0.6"/>
<line x1="51.20" y1="369.74" x2="52.80" y2="369.74" stroke="#111" stroke-width="0.6"/>
<line x1="51.20" y1="368.14" x2="52.80" y2="368.14" stroke="#111" stroke-width="0.6"/>
<line x1="51.20" y1="366.89" x2="52.80" y2="366.89" stroke="#111" stroke-width="0.6"/>
<line x1="51.20" y1="365.88" x2="52.80" y2="365.88" stroke="#111" stroke-width="0.6"/>
<line x1="51.20" y1="365.02" x2="52.80" y2="365.02" stroke="#111" stroke-width="0.6"/>
<line x1="51.20" y1="364.27" x2="52.80" y2="364.27" stroke="#111" stroke-width="0.6"/>
<line x1="51.20" y1="363.62" x2="52.80" y2="363.62" stroke="#111" stroke-width="0.6"/>
<line x1="51.20" y1="384.83" x2="52.80" y2="384.83" stroke="#111" stroke-width="0.6"/>
<line x1="51.20" y1="382.57" x2="52.80" y2="382.57" stroke="#111" stroke-width="0.6"/>
<line x1="51.20" y1="380.97" x2="52.80" y2="380.97" stroke="#111" stroke-width="0.6"/>
<line x1="51.20" y1="379.72" x2="52.80" y2="379.72" stroke="#111" stroke-width="0.6"/>
<line x1="51.20" y1="378.71" x2="52.80" y2="378.71" stroke="#111" stroke-width="0.6"/>
<line x1="51.20" y1="377.85" x2="52.80" y2="377.85" stroke="#111" stroke-width="0.6"/>
<line x1="51.20" y1="377.10" x2="52.80" y2="377.10" stroke="#111" stroke-width="0.6"/>
<line x1="51.20" y1="376.45" x2="52.80" y2="376.45" stroke="#111" stroke-width="0.6"/>
<line x1="51.20" y1="397.66" x2="52.80" y2="397.66" stroke="#111" stroke-width="0.6"/>
<line x1="51.20" y1="395.40" x2="52.80" y2="395.40" stroke="#111" stroke-width="0.6"/>
<line x1="51.20" y1="393.80" x2="52.80" y2="393.80" stroke="#111" stroke-width="0.6"/>
<line x1="51.20" y1="392.55" x2="52.80" y2="392.55" stroke="#111" stroke-width="0.6"/>
<line x1="51.20" y1="391.54" x2="52.80" y2="391.54" stroke="#111" stroke-width="0.6"/>
<line x1="51.20" y1="390.68" x2="52.80" y2="390.68" stroke="#111" stroke-width="0.6"/>
<line x1="51.20" y1="389.93" x2="52.80" y2="389.93" stroke="#111" stroke-width="0.6"/>
<line x1="51.20" y1="389.28" x2="52.80" y2="389.28" stroke="#111" stroke-width="0.6"/>
<line x1="51.20" y1="410.49" x2="52.80" y2="410.49" stroke="#111" stroke-width="0.6"/>
<line x1="51.20" y1="408.23" x2="52.80" y2="408.23" stroke="#111" stroke-width="0.6"/>
<line x1="51.20" y1="406.63" x2="52.80" y2="406.63" stroke="#111" stroke-width="0.6"/>
<line x1="51.20" y1="405.38" x2="52.80" y2="405.38" stroke="#111" stroke-width="0.6"/>
<line x1="51.20" y1="404.37" x2="52.80" y2="404.37" stroke="#111" stroke-width="0.6"/>
<line x1="51.20" y1="403.51" x2="52.80" y2="403.51" stroke="#111" stroke-width="0.6"/>
<line x1="51.20" y1="402.76" x2="52.80" y2="402.76" stroke="#111" stroke-width="0.6"/>
<line x1="51.20" y1="402.11" x2="52.80" y2="402.11" stroke="#111" stroke-width="0.6"/>
<line x1="51.20" y1="423.32" x2="52.80" y2="423.32" stroke="#111" stroke-width="0.6"/>
<line x1="51.20" y1="421.06" x2="52.80" y2="421.06" stroke="#111" stroke-width="0.6"/>
<line x1="51.20" y1="419.46" x2="52.80" y2="419.46" stroke="#111" stroke-width="0.6"/>
<line x1="51.20" y1="418.21" x2="52.80" y2="418.21" stroke="#111" stroke-width="0.6"/>
<line x1="51.20" y1="417.20" x2="52.80" y2="417.20" stroke="#111" stroke-width="0.6"/>
<line x1="51.20" y1="416.34" x2="52.80" y2="416.34" stroke="#111" stroke-width="0.6"/>
<line x1="51.20" y1="415.59" x2="52.80" y2="415.59" stroke="#111" stroke-width="0.6"/>
<line x1="51.20" y1="414.94" x2="52.80" y2="414.94" stroke="#111" stroke-width="0.6"/>
<line x1="50.20" y1="350.20" x2="52.80" y2="350.20" stroke="#111" stroke-width="1.0"/>
<text transform="translate(46.80,353.00) scale(0.95,1)" font-size="8.0" text-anchor="end" fill="#111" stroke="#111" stroke-width="0.22">10<tspan dx="0.5" dy="-3.4" font-size="6.0">3</tspan></text>
<line x1="50.20" y1="363.03" x2="52.80" y2="363.03" stroke="#111" stroke-width="1.0"/>
<text transform="translate(46.80,365.83) scale(0.95,1)" font-size="8.0" text-anchor="end" fill="#111" stroke="#111" stroke-width="0.22">10<tspan dx="0.5" dy="-3.4" font-size="6.0">2</tspan></text>
<line x1="50.20" y1="375.86" x2="52.80" y2="375.86" stroke="#111" stroke-width="1.0"/>
<text transform="translate(46.80,378.66) scale(0.95,1)" font-size="8.0" text-anchor="end" fill="#111" stroke="#111" stroke-width="0.22">10<tspan dx="0.5" dy="-3.4" font-size="6.0">1</tspan></text>
<line x1="50.20" y1="388.69" x2="52.80" y2="388.69" stroke="#111" stroke-width="1.0"/>
<text transform="translate(46.80,391.49) scale(0.95,1)" font-size="8.0" text-anchor="end" fill="#111" stroke="#111" stroke-width="0.22">10<tspan dx="0.5" dy="-3.4" font-size="6.0">0</tspan></text>
<line x1="50.20" y1="401.52" x2="52.80" y2="401.52" stroke="#111" stroke-width="1.0"/>
<text transform="translate(46.80,404.32) scale(0.95,1)" font-size="8.0" text-anchor="end" fill="#111" stroke="#111" stroke-width="0.22">10<tspan dx="0.5" dy="-3.4" font-size="6.0">-1</tspan></text>
<line x1="50.20" y1="414.35" x2="52.80" y2="414.35" stroke="#111" stroke-width="1.0"/>
<text transform="translate(46.80,417.15) scale(0.95,1)" font-size="8.0" text-anchor="end" fill="#111" stroke="#111" stroke-width="0.22">10<tspan dx="0.5" dy="-3.4" font-size="6.0">-2</tspan></text>
<line x1="50.20" y1="427.18" x2="52.80" y2="427.18" stroke="#111" stroke-width="1.0"/>
<text transform="translate(46.80,429.98) scale(0.95,1)" font-size="8.0" text-anchor="end" fill="#111" stroke="#111" stroke-width="0.22">10<tspan dx="0.5" dy="-3.4" font-size="6.0">-3</tspan></text>
<line x1="51.90" y1="427.18" x2="96.50" y2="427.18" stroke="#111" stroke-width="1.8"/>
<line x1="64.10" y1="427.18" x2="64.10" y2="429.98" stroke="#111" stroke-width="1.0"/>
<line x1="86.70" y1="427.18" x2="86.70" y2="429.98" stroke="#111" stroke-width="1.0"/>
<text x="77.60" y="343.70" font-size="9.6" text-anchor="middle" fill="#000" font-weight="normal" stroke="#000" stroke-width="0.06" >CD34<tspan dx="1.0" dy="-2.6" font-size="6.5">+</tspan></text>
<line x1="121.60" y1="347.30" x2="121.60" y2="427.78" stroke="#111" stroke-width="1.8"/>
<line x1="120.00" y1="359.24" x2="121.60" y2="359.24" stroke="#111" stroke-width="0.6"/>
<line x1="120.00" y1="356.96" x2="121.60" y2="356.96" stroke="#111" stroke-width="0.6"/>
<line x1="120.00" y1="355.35" x2="121.60" y2="355.35" stroke="#111" stroke-width="0.6"/>
<line x1="120.00" y1="354.09" x2="121.60" y2="354.09" stroke="#111" stroke-width="0.6"/>
<line x1="120.00" y1="353.07" x2="121.60" y2="353.07" stroke="#111" stroke-width="0.6"/>
<line x1="120.00" y1="352.20" x2="121.60" y2="352.20" stroke="#111" stroke-width="0.6"/>
<line x1="120.00" y1="351.45" x2="121.60" y2="351.45" stroke="#111" stroke-width="0.6"/>
<line x1="120.00" y1="350.79" x2="121.60" y2="350.79" stroke="#111" stroke-width="0.6"/>
<line x1="120.00" y1="372.17" x2="121.60" y2="372.17" stroke="#111" stroke-width="0.6"/>
<line x1="120.00" y1="369.89" x2="121.60" y2="369.89" stroke="#111" stroke-width="0.6"/>
<line x1="120.00" y1="368.28" x2="121.60" y2="368.28" stroke="#111" stroke-width="0.6"/>
<line x1="120.00" y1="367.02" x2="121.60" y2="367.02" stroke="#111" stroke-width="0.6"/>
<line x1="120.00" y1="366.00" x2="121.60" y2="366.00" stroke="#111" stroke-width="0.6"/>
<line x1="120.00" y1="365.13" x2="121.60" y2="365.13" stroke="#111" stroke-width="0.6"/>
<line x1="120.00" y1="364.38" x2="121.60" y2="364.38" stroke="#111" stroke-width="0.6"/>
<line x1="120.00" y1="363.72" x2="121.60" y2="363.72" stroke="#111" stroke-width="0.6"/>
<line x1="120.00" y1="385.10" x2="121.60" y2="385.10" stroke="#111" stroke-width="0.6"/>
<line x1="120.00" y1="382.82" x2="121.60" y2="382.82" stroke="#111" stroke-width="0.6"/>
<line x1="120.00" y1="381.21" x2="121.60" y2="381.21" stroke="#111" stroke-width="0.6"/>
<line x1="120.00" y1="379.95" x2="121.60" y2="379.95" stroke="#111" stroke-width="0.6"/>
<line x1="120.00" y1="378.93" x2="121.60" y2="378.93" stroke="#111" stroke-width="0.6"/>
<line x1="120.00" y1="378.06" x2="121.60" y2="378.06" stroke="#111" stroke-width="0.6"/>
<line x1="120.00" y1="377.31" x2="121.60" y2="377.31" stroke="#111" stroke-width="0.6"/>
<line x1="120.00" y1="376.65" x2="121.60" y2="376.65" stroke="#111" stroke-width="0.6"/>
<line x1="120.00" y1="398.03" x2="121.60" y2="398.03" stroke="#111" stroke-width="0.6"/>
<line x1="120.00" y1="395.75" x2="121.60" y2="395.75" stroke="#111" stroke-width="0.6"/>
<line x1="120.00" y1="394.14" x2="121.60" y2="394.14" stroke="#111" stroke-width="0.6"/>
<line x1="120.00" y1="392.88" x2="121.60" y2="392.88" stroke="#111" stroke-width="0.6"/>
<line x1="120.00" y1="391.86" x2="121.60" y2="391.86" stroke="#111" stroke-width="0.6"/>
<line x1="120.00" y1="390.99" x2="121.60" y2="390.99" stroke="#111" stroke-width="0.6"/>
<line x1="120.00" y1="390.24" x2="121.60" y2="390.24" stroke="#111" stroke-width="0.6"/>
<line x1="120.00" y1="389.58" x2="121.60" y2="389.58" stroke="#111" stroke-width="0.6"/>
<line x1="120.00" y1="410.96" x2="121.60" y2="410.96" stroke="#111" stroke-width="0.6"/>
<line x1="120.00" y1="408.68" x2="121.60" y2="408.68" stroke="#111" stroke-width="0.6"/>
<line x1="120.00" y1="407.07" x2="121.60" y2="407.07" stroke="#111" stroke-width="0.6"/>
<line x1="120.00" y1="405.81" x2="121.60" y2="405.81" stroke="#111" stroke-width="0.6"/>
<line x1="120.00" y1="404.79" x2="121.60" y2="404.79" stroke="#111" stroke-width="0.6"/>
<line x1="120.00" y1="403.92" x2="121.60" y2="403.92" stroke="#111" stroke-width="0.6"/>
<line x1="120.00" y1="403.17" x2="121.60" y2="403.17" stroke="#111" stroke-width="0.6"/>
<line x1="120.00" y1="402.51" x2="121.60" y2="402.51" stroke="#111" stroke-width="0.6"/>
<line x1="120.00" y1="423.89" x2="121.60" y2="423.89" stroke="#111" stroke-width="0.6"/>
<line x1="120.00" y1="421.61" x2="121.60" y2="421.61" stroke="#111" stroke-width="0.6"/>
<line x1="120.00" y1="420.00" x2="121.60" y2="420.00" stroke="#111" stroke-width="0.6"/>
<line x1="120.00" y1="418.74" x2="121.60" y2="418.74" stroke="#111" stroke-width="0.6"/>
<line x1="120.00" y1="417.72" x2="121.60" y2="417.72" stroke="#111" stroke-width="0.6"/>
<line x1="120.00" y1="416.85" x2="121.60" y2="416.85" stroke="#111" stroke-width="0.6"/>
<line x1="120.00" y1="416.10" x2="121.60" y2="416.10" stroke="#111" stroke-width="0.6"/>
<line x1="120.00" y1="415.44" x2="121.60" y2="415.44" stroke="#111" stroke-width="0.6"/>
<line x1="119.00" y1="350.20" x2="121.60" y2="350.20" stroke="#111" stroke-width="1.0"/>
<text transform="translate(117.00,353.00) scale(0.95,1)" font-size="8.0" text-anchor="end" fill="#111" stroke="#111" stroke-width="0.22">10<tspan dx="0.5" dy="-3.4" font-size="6.0">2</tspan></text>
<line x1="119.00" y1="363.13" x2="121.60" y2="363.13" stroke="#111" stroke-width="1.0"/>
<text transform="translate(117.00,365.93) scale(0.95,1)" font-size="8.0" text-anchor="end" fill="#111" stroke="#111" stroke-width="0.22">10<tspan dx="0.5" dy="-3.4" font-size="6.0">1</tspan></text>
<line x1="119.00" y1="376.06" x2="121.60" y2="376.06" stroke="#111" stroke-width="1.0"/>
<text transform="translate(117.00,378.86) scale(0.95,1)" font-size="8.0" text-anchor="end" fill="#111" stroke="#111" stroke-width="0.22">10<tspan dx="0.5" dy="-3.4" font-size="6.0">0</tspan></text>
<line x1="119.00" y1="388.99" x2="121.60" y2="388.99" stroke="#111" stroke-width="1.0"/>
<text transform="translate(117.00,391.79) scale(0.95,1)" font-size="8.0" text-anchor="end" fill="#111" stroke="#111" stroke-width="0.22">10<tspan dx="0.5" dy="-3.4" font-size="6.0">-1</tspan></text>
<line x1="119.00" y1="401.92" x2="121.60" y2="401.92" stroke="#111" stroke-width="1.0"/>
<text transform="translate(117.00,404.72) scale(0.95,1)" font-size="8.0" text-anchor="end" fill="#111" stroke="#111" stroke-width="0.22">10<tspan dx="0.5" dy="-3.4" font-size="6.0">-2</tspan></text>
<line x1="119.00" y1="414.85" x2="121.60" y2="414.85" stroke="#111" stroke-width="1.0"/>
<text transform="translate(117.00,417.65) scale(0.95,1)" font-size="8.0" text-anchor="end" fill="#111" stroke="#111" stroke-width="0.22">10<tspan dx="0.5" dy="-3.4" font-size="6.0">-3</tspan></text>
<line x1="119.00" y1="427.78" x2="121.60" y2="427.78" stroke="#111" stroke-width="1.0"/>
<text transform="translate(117.00,430.58) scale(0.95,1)" font-size="8.0" text-anchor="end" fill="#111" stroke="#111" stroke-width="0.22">10<tspan dx="0.5" dy="-3.4" font-size="6.0">-4</tspan></text>
<line x1="120.70" y1="427.78" x2="165.60" y2="427.78" stroke="#111" stroke-width="1.8"/>
<line x1="133.60" y1="427.78" x2="133.60" y2="430.58" stroke="#111" stroke-width="1.0"/>
<line x1="155.50" y1="427.78" x2="155.50" y2="430.58" stroke="#111" stroke-width="1.0"/>
<text x="143.80" y="343.70" font-size="9.6" text-anchor="middle" fill="#000" font-weight="normal" stroke="#000" stroke-width="0.06" >BMPR1b<tspan dx="1.0" dy="-2.6" font-size="6.5">+</tspan></text>
<text transform="translate(67.30,436.30) rotate(-45)" font-size="8.2" text-anchor="end" fill="#000">CCyR (n=8)</text>
<text transform="translate(89.60,436.30) rotate(-45)" font-size="8.2" text-anchor="end" fill="#000">RES (n=12)</text>
<text transform="translate(136.30,436.30) rotate(-45)" font-size="8.2" text-anchor="end" fill="#000">CCyR (n=6)</text>
<text transform="translate(159.00,436.30) rotate(-45)" font-size="8.2" text-anchor="end" fill="#000">RES (n=9)</text>
<circle cx="58.70" cy="392.10" r="1.6" fill="none" stroke="#dfae52" stroke-width="0.9"/>
<circle cx="62.30" cy="394.70" r="1.6" fill="none" stroke="#dfae52" stroke-width="0.9"/>
<circle cx="65.90" cy="394.20" r="1.6" fill="none" stroke="#dfae52" stroke-width="0.9"/>
<circle cx="70.00" cy="394.70" r="1.6" fill="none" stroke="#dfae52" stroke-width="0.9"/>
<circle cx="58.20" cy="399.80" r="1.6" fill="none" stroke="#dfae52" stroke-width="0.9"/>
<circle cx="62.30" cy="403.40" r="1.6" fill="none" stroke="#dfae52" stroke-width="0.9"/>
<circle cx="65.90" cy="401.40" r="1.6" fill="none" stroke="#dfae52" stroke-width="0.9"/>
<circle cx="70.00" cy="399.30" r="1.6" fill="none" stroke="#dfae52" stroke-width="0.9"/>
<line x1="57.00" y1="396.50" x2="71.60" y2="396.50" stroke="#111" stroke-width="1.4"/>
<line x1="64.30" y1="394.30" x2="64.30" y2="398.70" stroke="#111" stroke-width="1.1"/>
<line x1="60.80" y1="394.30" x2="67.80" y2="394.30" stroke="#111" stroke-width="1.1"/>
<line x1="60.80" y1="398.70" x2="67.80" y2="398.70" stroke="#111" stroke-width="1.1"/>
<path d="M86.60 366.80L88.60 368.80L86.60 370.80L84.60 368.80Z" fill="#3b2463"/>
<path d="M86.60 371.90L88.60 373.90L86.60 375.90L84.60 373.90Z" fill="#3b2463"/>
<path d="M82.40 389.10L84.40 391.10L82.40 393.10L80.40 391.10Z" fill="#3b2463"/>
<path d="M93.70 390.80L95.70 392.80L93.70 394.80L91.70 392.80Z" fill="#3b2463"/>
<path d="M86.70 392.50L88.70 394.50L86.70 396.50L84.70 394.50Z" fill="#3b2463"/>
<path d="M91.40 395.00L93.40 397.00L91.40 399.00L89.40 397.00Z" fill="#3b2463"/>
<path d="M82.40 397.30L84.40 399.30L82.40 401.30L80.40 399.30Z" fill="#3b2463"/>
<path d="M86.70 397.80L88.70 399.80L86.70 401.80L84.70 399.80Z" fill="#3b2463"/>
<path d="M89.10 404.20L91.10 406.20L89.10 408.20L87.10 406.20Z" fill="#3b2463"/>
<path d="M84.50 406.60L86.50 408.60L84.50 410.60L82.50 408.60Z" fill="#3b2463"/>
<line x1="79.10" y1="380.00" x2="94.10" y2="380.00" stroke="#111" stroke-width="1.4"/>
<line x1="86.60" y1="377.20" x2="86.60" y2="385.40" stroke="#111" stroke-width="1.1"/>
<line x1="83.00" y1="377.20" x2="90.20" y2="377.20" stroke="#111" stroke-width="1.1"/>
<line x1="83.00" y1="385.40" x2="90.20" y2="385.40" stroke="#111" stroke-width="1.1"/>
<circle cx="133.60" cy="387.60" r="1.6" fill="none" stroke="#dfae52" stroke-width="0.9"/>
<circle cx="131.40" cy="402.30" r="1.6" fill="none" stroke="#dfae52" stroke-width="0.9"/>
<circle cx="135.30" cy="406.70" r="1.6" fill="none" stroke="#dfae52" stroke-width="0.9"/>
<circle cx="131.00" cy="427.80" r="1.6" fill="none" stroke="#dfae52" stroke-width="0.9"/>
<circle cx="136.00" cy="427.80" r="1.6" fill="none" stroke="#dfae52" stroke-width="0.9"/>
<line x1="126.10" y1="396.60" x2="141.10" y2="396.60" stroke="#111" stroke-width="1.4"/>
<line x1="133.60" y1="393.70" x2="133.60" y2="405.20" stroke="#111" stroke-width="1.1"/>
<line x1="129.25" y1="393.70" x2="137.95" y2="393.70" stroke="#111" stroke-width="1.1"/>
<line x1="129.25" y1="405.20" x2="137.95" y2="405.20" stroke="#111" stroke-width="1.1"/>
<path d="M156.20 350.80L158.20 352.80L156.20 354.80L154.20 352.80Z" fill="#3b2463"/>
<path d="M154.00 370.50L156.00 372.50L154.00 374.50L152.00 372.50Z" fill="#3b2463"/>
<path d="M158.40 369.10L160.40 371.10L158.40 373.10L156.40 371.10Z" fill="#3b2463"/>
<path d="M154.00 393.90L156.00 395.90L154.00 397.90L152.00 395.90Z" fill="#3b2463"/>
<path d="M158.40 395.00L160.40 397.00L158.40 399.00L156.40 397.00Z" fill="#3b2463"/>
<path d="M150.10 399.90L152.10 401.90L150.10 403.90L148.10 401.90Z" fill="#3b2463"/>
<path d="M154.00 401.80L156.00 403.80L154.00 405.80L152.00 403.80Z" fill="#3b2463"/>
<path d="M157.90 400.30L159.90 402.30L157.90 404.30L155.90 402.30Z" fill="#3b2463"/>
<path d="M162.00 398.20L164.00 400.20L162.00 402.20L160.00 400.20Z" fill="#3b2463"/>
<line x1="148.25" y1="364.60" x2="163.35" y2="364.60" stroke="#111" stroke-width="1.4"/>
<line x1="155.80" y1="361.40" x2="155.80" y2="379.40" stroke="#111" stroke-width="1.1"/>
<line x1="152.55" y1="361.40" x2="159.05" y2="361.40" stroke="#111" stroke-width="1.1"/>
<line x1="152.55" y1="379.40" x2="159.05" y2="379.40" stroke="#111" stroke-width="1.1"/>
<text transform="translate(189.40,384.30) rotate(-90)" font-size="8.2" text-anchor="middle" fill="#000" stroke="#000" stroke-width="0.05">% BMPR1b positive cells</text>
<line x1="212.20" y1="347.30" x2="212.20" y2="428.00" stroke="#111" stroke-width="1.8"/>
<line x1="209.40" y1="349.60" x2="212.20" y2="349.60" stroke="#111" stroke-width="1.0"/>
<text x="205.80" y="352.40" font-size="7.6" text-anchor="end" fill="#333" font-weight="normal" stroke="#333" stroke-width="0.14" >100</text>
<line x1="209.40" y1="365.28" x2="212.20" y2="365.28" stroke="#111" stroke-width="1.0"/>
<text x="205.80" y="368.08" font-size="7.6" text-anchor="end" fill="#333" font-weight="normal" stroke="#333" stroke-width="0.14" >80</text>
<line x1="209.40" y1="380.96" x2="212.20" y2="380.96" stroke="#111" stroke-width="1.0"/>
<text x="205.80" y="383.76" font-size="7.6" text-anchor="end" fill="#333" font-weight="normal" stroke="#333" stroke-width="0.14" >60</text>
<line x1="209.40" y1="396.64" x2="212.20" y2="396.64" stroke="#111" stroke-width="1.0"/>
<text x="205.80" y="399.44" font-size="7.6" text-anchor="end" fill="#333" font-weight="normal" stroke="#333" stroke-width="0.14" >40</text>
<line x1="209.40" y1="412.32" x2="212.20" y2="412.32" stroke="#111" stroke-width="1.0"/>
<text x="205.80" y="415.12" font-size="7.6" text-anchor="end" fill="#333" font-weight="normal" stroke="#333" stroke-width="0.14" >20</text>
<line x1="209.40" y1="428.00" x2="212.20" y2="428.00" stroke="#111" stroke-width="1.0"/>
<text x="205.80" y="430.80" font-size="7.6" text-anchor="end" fill="#333" font-weight="normal" stroke="#333" stroke-width="0.14" >0</text>
<line x1="211.50" y1="428.00" x2="273.30" y2="428.00" stroke="#111" stroke-width="1.8"/>
<line x1="222.30" y1="428.00" x2="222.30" y2="431.00" stroke="#111" stroke-width="1.0"/>
<text x="222.30" y="441.40" font-size="8.2" text-anchor="middle" fill="#000" font-weight="normal" stroke="#000" stroke-width="0.14" >0</text>
<line x1="242.80" y1="428.00" x2="242.80" y2="431.00" stroke="#111" stroke-width="1.0"/>
<text x="242.80" y="441.40" font-size="8.2" text-anchor="middle" fill="#000" font-weight="normal" stroke="#000" stroke-width="0.14" >1</text>
<line x1="262.60" y1="428.00" x2="262.60" y2="431.00" stroke="#111" stroke-width="1.0"/>
<text x="262.60" y="441.40" font-size="8.2" text-anchor="middle" fill="#000" font-weight="normal" stroke="#000" stroke-width="0.14" >2</text>
<text x="243.00" y="454.70" font-size="9.2" text-anchor="middle" fill="#000" font-weight="normal" stroke="#000" stroke-width="0.06" >[IM] μM</text>
<rect x="214.00" y="427.00" width="5.00" height="1.00" fill="#3e6e55"/>
<rect x="222.30" y="426.50" width="5.70" height="1.50" fill="#9a92c9"/>
<rect x="235.40" y="425.70" width="6.10" height="2.30" fill="#3e6e55"/>
<rect x="243.70" y="419.10" width="6.50" height="8.90" fill="#9a92c9"/>
<rect x="256.80" y="423.60" width="6.10" height="4.40" fill="#3e6e55"/>
<rect x="264.50" y="404.70" width="6.30" height="23.30" fill="#9a92c9"/>
<line x1="247.00" y1="401.40" x2="247.00" y2="419.10" stroke="#111" stroke-width="1.1"/>
<line x1="245.30" y1="401.40" x2="248.70" y2="401.40" stroke="#111" stroke-width="1.1"/>
<line x1="267.60" y1="375.00" x2="267.60" y2="404.70" stroke="#111" stroke-width="1.1"/>
<line x1="265.90" y1="375.00" x2="269.30" y2="375.00" stroke="#111" stroke-width="1.1"/>
<rect x="225.7" y="352.3" width="9.3" height="5.2" fill="#3e6e55"/>
<rect x="225.7" y="362.6" width="9.3" height="5.2" fill="#9a92c9"/>
<text x="237.60" y="357.10" font-size="7.6" text-anchor="start" fill="#222" font-weight="normal" stroke="#222" stroke-width="0.05" >NBM</text>
<text x="237.60" y="366.50" font-size="7.6" text-anchor="start" fill="#222" font-weight="normal" stroke="#222" stroke-width="0.05" >CML</text>
<text x="280.40" y="345.30" font-size="8.2" text-anchor="middle" fill="#000" font-weight="normal" stroke="#000" stroke-width="0.15" >IM</text>
<text x="315.00" y="345.40" font-size="8.2" text-anchor="middle" fill="#000" font-weight="normal" stroke="#000" stroke-width="0.06" >0μM</text>
<text x="364.80" y="345.40" font-size="8.2" text-anchor="middle" fill="#000" font-weight="normal" stroke="#000" stroke-width="0.06" >1μM</text>
<text x="414.50" y="345.40" font-size="8.2" text-anchor="middle" fill="#000" font-weight="normal" stroke="#000" stroke-width="0.06" >2μM</text>
<text transform="translate(285.6,373.6) rotate(-90)" font-size="8.2" text-anchor="middle" fill="#111" stroke="#111" stroke-width="0.05">Normal</text>
<text transform="translate(285.6,423.5) rotate(-90)" font-size="8.2" text-anchor="middle" fill="#111">CML</text>
<defs><filter id="bl" x="-50%" y="-50%" width="200%" height="200%"><feGaussianBlur stdDeviation="1.6"/></filter></defs>
<defs><filter id="b2" x="-50%" y="-50%" width="200%" height="200%"><feGaussianBlur stdDeviation="1.0"/></filter></defs>
<ellipse cx="297.50" cy="367.50" rx="4.2" ry="10.5" fill="#a0b0e0" opacity="0.55" filter="url(#bl)"/>
<g filter="url(#b2)" opacity="0.45">
<ellipse cx="298.00" cy="367.00" rx="4.0" ry="10" fill="#8f9fd8" fill-opacity="0.2" stroke="#8f9fd8" stroke-width="1.1"/>
<ellipse cx="298.00" cy="367.60" rx="2.67" ry="6.67" fill="none" stroke="#8f9fd8" stroke-width="1.1"/>
<ellipse cx="298.00" cy="368.20" rx="1.33" ry="3.33" fill="none" stroke="#8f9fd8" stroke-width="1.1"/>
</g>
<ellipse cx="292.80" cy="369.00" rx="2.0" ry="15" fill="#b03050" opacity="0.75" filter="url(#bl)"/>
<g filter="url(#b2)" opacity="0.5">
<ellipse cx="293.20" cy="369.00" rx="2.2" ry="14" fill="#c04060" fill-opacity="0.25" stroke="#c04060" stroke-width="1.1"/>
<ellipse cx="293.20" cy="369.60" rx="1.10" ry="7.00" fill="none" stroke="#c04060" stroke-width="1.1"/>
</g>
<ellipse cx="347.00" cy="367.00" rx="4.2" ry="10.5" fill="#a8c0e8" opacity="0.5" filter="url(#bl)"/>
<g filter="url(#b2)" opacity="0.45">
<ellipse cx="347.50" cy="366.50" rx="4.0" ry="10" fill="#90a8dc" fill-opacity="0.2" stroke="#90a8dc" stroke-width="1.1"/>
<ellipse cx="347.50" cy="367.10" rx="2.67" ry="6.67" fill="none" stroke="#90a8dc" stroke-width="1.1"/>
<ellipse cx="347.50" cy="367.70" rx="1.33" ry="3.33" fill="none" stroke="#90a8dc" stroke-width="1.1"/>
</g>
<ellipse cx="342.00" cy="369.50" rx="2.0" ry="15" fill="#b03050" opacity="0.75" filter="url(#bl)"/>
<g filter="url(#b2)" opacity="0.5">
<ellipse cx="342.40" cy="369.50" rx="2.2" ry="14" fill="#c04060" fill-opacity="0.25" stroke="#c04060" stroke-width="1.1"/>
<ellipse cx="342.40" cy="370.10" rx="1.10" ry="7.00" fill="none" stroke="#c04060" stroke-width="1.1"/>
</g>
<ellipse cx="397.50" cy="366.00" rx="4.5" ry="11" fill="#e0a0b0" opacity="0.45" filter="url(#bl)"/>
<g filter="url(#b2)" opacity="0.4">
<ellipse cx="397.80" cy="366.00" rx="4.2" ry="10.5" fill="#d090a8" fill-opacity="0.2" stroke="#d090a8" stroke-width="1.1"/>
<ellipse cx="397.80" cy="366.60" rx="2.80" ry="7.00" fill="none" stroke="#d090a8" stroke-width="1.1"/>
<ellipse cx="397.80" cy="367.20" rx="1.40" ry="3.50" fill="none" stroke="#d090a8" stroke-width="1.1"/>
</g>
<ellipse cx="392.20" cy="374.00" rx="2.0" ry="11" fill="#3a40b0" opacity="0.6" filter="url(#bl)"/>
<g filter="url(#b2)" opacity="0.45">
<ellipse cx="392.50" cy="373.00" rx="2.2" ry="10" fill="#5050c0" fill-opacity="0.25" stroke="#5050c0" stroke-width="1.1"/>
<ellipse cx="392.50" cy="373.60" rx="1.10" ry="5.00" fill="none" stroke="#5050c0" stroke-width="1.1"/>
</g>
<g filter="url(#b2)" opacity="0.55">
<ellipse cx="297.50" cy="415.50" rx="5.0" ry="9.5" fill="#9a8ac8" fill-opacity="0.3" stroke="#9a8ac8" stroke-width="1.1"/>
<ellipse cx="297.50" cy="416.10" rx="3.33" ry="6.33" fill="none" stroke="#9a8ac8" stroke-width="1.1"/>
<ellipse cx="297.50" cy="416.70" rx="1.67" ry="3.17" fill="none" stroke="#9a8ac8" stroke-width="1.1"/>
</g>
<g filter="url(#b2)" opacity="0.55">
<ellipse cx="293.50" cy="417.00" rx="3.0" ry="8" fill="#b84868" fill-opacity="0.3" stroke="#b84868" stroke-width="1.1"/>
<ellipse cx="293.50" cy="417.60" rx="2.00" ry="5.33" fill="none" stroke="#b84868" stroke-width="1.1"/>
<ellipse cx="293.50" cy="418.20" rx="1.00" ry="2.67" fill="none" stroke="#b84868" stroke-width="1.1"/>
</g>
<g filter="url(#b2)" opacity="0.6">
<ellipse cx="345.60" cy="416.50" rx="5.0" ry="10" fill="#6a8ee0" fill-opacity="0.25" stroke="#6a8ee0" stroke-width="1.1"/>
<ellipse cx="345.60" cy="417.10" rx="3.33" ry="6.67" fill="none" stroke="#6a8ee0" stroke-width="1.1"/>
<ellipse cx="345.60" cy="417.70" rx="1.67" ry="3.33" fill="none" stroke="#6a8ee0" stroke-width="1.1"/>
</g>
<g filter="url(#b2)" opacity="0.55">
<ellipse cx="357.80" cy="416.50" rx="5.2" ry="11" fill="#e07078" fill-opacity="0.25" stroke="#e07078" stroke-width="1.1"/>
<ellipse cx="357.80" cy="417.10" rx="3.47" ry="7.33" fill="none" stroke="#e07078" stroke-width="1.1"/>
<ellipse cx="357.80" cy="417.70" rx="1.73" ry="3.67" fill="none" stroke="#e07078" stroke-width="1.1"/>
</g>
<g filter="url(#b2)" opacity="0.6">
<ellipse cx="396.60" cy="417.40" rx="5.0" ry="10" fill="#5f88e0" fill-opacity="0.25" stroke="#5f88e0" stroke-width="1.1"/>
<ellipse cx="396.60" cy="418.00" rx="3.33" ry="6.67" fill="none" stroke="#5f88e0" stroke-width="1.1"/>
<ellipse cx="396.60" cy="418.60" rx="1.67" ry="3.33" fill="none" stroke="#5f88e0" stroke-width="1.1"/>
</g>
<g filter="url(#b2)" opacity="0.5">
<ellipse cx="417.50" cy="416.00" rx="9.0" ry="11.5" fill="#ec8a8a" fill-opacity="0.25" stroke="#ec8a8a" stroke-width="1.1"/>
<ellipse cx="417.50" cy="416.60" rx="6.00" ry="7.67" fill="none" stroke="#ec8a8a" stroke-width="1.1"/>
<ellipse cx="417.50" cy="417.20" rx="3.00" ry="3.83" fill="none" stroke="#ec8a8a" stroke-width="1.1"/>
</g>
<path d="M291 350.2H438.3M291 447.2H438.3" stroke="#222" stroke-width="1.6" fill="none"/>
<path d="M291 398.5H438.3" stroke="#000" stroke-width="2.4" fill="none"/>
<path d="M291 349.3V448M438.3 349.3V448" stroke="#111" stroke-width="1.8" fill="none"/>
<path d="M339.7 349.3V448M389.5 349.3V448" stroke="#111" stroke-width="2.6" fill="none"/>
<path d="M304.2 350V447M353.6 350V447M404.0 350V447" stroke="#2a2a2a" stroke-width="1.5" fill="none"/>
<text x="318.80" y="390.60" font-size="8.5" text-anchor="start" fill="#a8503e" font-weight="normal" stroke="#a8503e" stroke-width="0.1" >0%</text>
<text x="371.60" y="390.60" font-size="8.5" text-anchor="start" fill="#a8503e" font-weight="normal" stroke="#a8503e" stroke-width="0.1" >0%</text>
<text x="420.10" y="390.60" font-size="8.5" text-anchor="start" fill="#a8503e" font-weight="normal" stroke="#a8503e" stroke-width="0.1" >0%</text>
<text x="315.90" y="439.80" font-size="8.5" text-anchor="start" fill="#a8503e" font-weight="normal" stroke="#a8503e" stroke-width="0.1" >0%</text>
<text x="366.50" y="439.80" font-size="8.5" text-anchor="start" fill="#a8503e" font-weight="normal" stroke="#a8503e" stroke-width="0.1" >60%</text>
<text x="413.20" y="439.80" font-size="8.5" text-anchor="start" fill="#a8503e" font-weight="normal" stroke="#a8503e" stroke-width="0.1" >100%</text>
<text x="335.0" y="457.6" font-size="8.0" fill="#5a7ac8" stroke="#5a7ac8" stroke-width="0.08">Ig<tspan fill="#c04848" stroke="#c04848"> / BMPR1b -PE</tspan></text>
<text transform="translate(450.10,394.80) rotate(-90)" font-size="8.0" text-anchor="middle" fill="#000" stroke="#000" stroke-width="0.05">% BMPR1b positive cells</text>
<line x1="478.40" y1="330.50" x2="478.40" y2="378.80" stroke="#111" stroke-width="1.8"/>
<line x1="476.00" y1="333.00" x2="478.40" y2="333.00" stroke="#111" stroke-width="1.0"/>
<text x="474.80" y="335.30" font-size="6.6" text-anchor="end" fill="#222" font-weight="normal" stroke="#222" stroke-width="0.06" >100</text>
<line x1="476.00" y1="340.60" x2="478.40" y2="340.60" stroke="#111" stroke-width="1.0"/>
<line x1="477.00" y1="338.31" x2="478.40" y2="338.31" stroke="#111" stroke-width="0.5"/>
<line x1="477.00" y1="336.97" x2="478.40" y2="336.97" stroke="#111" stroke-width="0.5"/>
<line x1="477.00" y1="336.02" x2="478.40" y2="336.02" stroke="#111" stroke-width="0.5"/>
<line x1="477.00" y1="335.29" x2="478.40" y2="335.29" stroke="#111" stroke-width="0.5"/>
<line x1="477.00" y1="334.69" x2="478.40" y2="334.69" stroke="#111" stroke-width="0.5"/>
<line x1="477.00" y1="334.18" x2="478.40" y2="334.18" stroke="#111" stroke-width="0.5"/>
<line x1="477.00" y1="333.74" x2="478.40" y2="333.74" stroke="#111" stroke-width="0.5"/>
<line x1="477.00" y1="333.35" x2="478.40" y2="333.35" stroke="#111" stroke-width="0.5"/>
<text x="474.80" y="342.90" font-size="6.6" text-anchor="end" fill="#222" font-weight="normal" stroke="#222" stroke-width="0.06" >10</text>
<line x1="476.00" y1="348.20" x2="478.40" y2="348.20" stroke="#111" stroke-width="1.0"/>
<line x1="477.00" y1="345.91" x2="478.40" y2="345.91" stroke="#111" stroke-width="0.5"/>
<line x1="477.00" y1="344.57" x2="478.40" y2="344.57" stroke="#111" stroke-width="0.5"/>
<line x1="477.00" y1="343.62" x2="478.40" y2="343.62" stroke="#111" stroke-width="0.5"/>
<line x1="477.00" y1="342.89" x2="478.40" y2="342.89" stroke="#111" stroke-width="0.5"/>
<line x1="477.00" y1="342.29" x2="478.40" y2="342.29" stroke="#111" stroke-width="0.5"/>
<line x1="477.00" y1="341.78" x2="478.40" y2="341.78" stroke="#111" stroke-width="0.5"/>
<line x1="477.00" y1="341.34" x2="478.40" y2="341.34" stroke="#111" stroke-width="0.5"/>
<line x1="477.00" y1="340.95" x2="478.40" y2="340.95" stroke="#111" stroke-width="0.5"/>
<text x="474.80" y="350.50" font-size="6.6" text-anchor="end" fill="#222" font-weight="normal" stroke="#222" stroke-width="0.06" >1</text>
<line x1="476.00" y1="355.80" x2="478.40" y2="355.80" stroke="#111" stroke-width="1.0"/>
<line x1="477.00" y1="353.51" x2="478.40" y2="353.51" stroke="#111" stroke-width="0.5"/>
<line x1="477.00" y1="352.17" x2="478.40" y2="352.17" stroke="#111" stroke-width="0.5"/>
<line x1="477.00" y1="351.22" x2="478.40" y2="351.22" stroke="#111" stroke-width="0.5"/>
<line x1="477.00" y1="350.49" x2="478.40" y2="350.49" stroke="#111" stroke-width="0.5"/>
<line x1="477.00" y1="349.89" x2="478.40" y2="349.89" stroke="#111" stroke-width="0.5"/>
<line x1="477.00" y1="349.38" x2="478.40" y2="349.38" stroke="#111" stroke-width="0.5"/>
<line x1="477.00" y1="348.94" x2="478.40" y2="348.94" stroke="#111" stroke-width="0.5"/>
<line x1="477.00" y1="348.55" x2="478.40" y2="348.55" stroke="#111" stroke-width="0.5"/>
<text x="474.80" y="358.10" font-size="6.6" text-anchor="end" fill="#222" font-weight="normal" stroke="#222" stroke-width="0.06" >0.1</text>
<line x1="476.00" y1="363.40" x2="478.40" y2="363.40" stroke="#111" stroke-width="1.0"/>
<line x1="477.00" y1="361.11" x2="478.40" y2="361.11" stroke="#111" stroke-width="0.5"/>
<line x1="477.00" y1="359.77" x2="478.40" y2="359.77" stroke="#111" stroke-width="0.5"/>
<line x1="477.00" y1="358.82" x2="478.40" y2="358.82" stroke="#111" stroke-width="0.5"/>
<line x1="477.00" y1="358.09" x2="478.40" y2="358.09" stroke="#111" stroke-width="0.5"/>
<line x1="477.00" y1="357.49" x2="478.40" y2="357.49" stroke="#111" stroke-width="0.5"/>
<line x1="477.00" y1="356.98" x2="478.40" y2="356.98" stroke="#111" stroke-width="0.5"/>
<line x1="477.00" y1="356.54" x2="478.40" y2="356.54" stroke="#111" stroke-width="0.5"/>
<line x1="477.00" y1="356.15" x2="478.40" y2="356.15" stroke="#111" stroke-width="0.5"/>
<text x="474.80" y="365.70" font-size="6.6" text-anchor="end" fill="#222" font-weight="normal" stroke="#222" stroke-width="0.06" >0.01</text>
<line x1="476.00" y1="371.00" x2="478.40" y2="371.00" stroke="#111" stroke-width="1.0"/>
<line x1="477.00" y1="368.71" x2="478.40" y2="368.71" stroke="#111" stroke-width="0.5"/>
<line x1="477.00" y1="367.37" x2="478.40" y2="367.37" stroke="#111" stroke-width="0.5"/>
<line x1="477.00" y1="366.42" x2="478.40" y2="366.42" stroke="#111" stroke-width="0.5"/>
<line x1="477.00" y1="365.69" x2="478.40" y2="365.69" stroke="#111" stroke-width="0.5"/>
<line x1="477.00" y1="365.09" x2="478.40" y2="365.09" stroke="#111" stroke-width="0.5"/>
<line x1="477.00" y1="364.58" x2="478.40" y2="364.58" stroke="#111" stroke-width="0.5"/>
<line x1="477.00" y1="364.14" x2="478.40" y2="364.14" stroke="#111" stroke-width="0.5"/>
<line x1="477.00" y1="363.75" x2="478.40" y2="363.75" stroke="#111" stroke-width="0.5"/>
<text x="474.80" y="373.30" font-size="6.6" text-anchor="end" fill="#222" font-weight="normal" stroke="#222" stroke-width="0.06" >0.001</text>
<line x1="476.00" y1="378.60" x2="478.40" y2="378.60" stroke="#111" stroke-width="1.0"/>
<line x1="477.00" y1="376.31" x2="478.40" y2="376.31" stroke="#111" stroke-width="0.5"/>
<line x1="477.00" y1="374.97" x2="478.40" y2="374.97" stroke="#111" stroke-width="0.5"/>
<line x1="477.00" y1="374.02" x2="478.40" y2="374.02" stroke="#111" stroke-width="0.5"/>
<line x1="477.00" y1="373.29" x2="478.40" y2="373.29" stroke="#111" stroke-width="0.5"/>
<line x1="477.00" y1="372.69" x2="478.40" y2="372.69" stroke="#111" stroke-width="0.5"/>
<line x1="477.00" y1="372.18" x2="478.40" y2="372.18" stroke="#111" stroke-width="0.5"/>
<line x1="477.00" y1="371.74" x2="478.40" y2="371.74" stroke="#111" stroke-width="0.5"/>
<line x1="477.00" y1="371.35" x2="478.40" y2="371.35" stroke="#111" stroke-width="0.5"/>
<text x="474.80" y="380.90" font-size="6.6" text-anchor="end" fill="#222" font-weight="normal" stroke="#222" stroke-width="0.06" >0.0001</text>
<line x1="477.50" y1="378.80" x2="511.70" y2="378.80" stroke="#111" stroke-width="1.8"/>
<line x1="486.50" y1="378.80" x2="486.50" y2="381.80" stroke="#111" stroke-width="1.0"/>
<text x="486.50" y="390.00" font-size="6.4" text-anchor="middle" fill="#444" font-weight="normal" stroke="#444" stroke-width="0.14" >-</text>
<line x1="503.30" y1="378.80" x2="503.30" y2="381.80" stroke="#111" stroke-width="1.0"/>
<text x="503.30" y="390.00" font-size="6.4" text-anchor="middle" fill="#444" font-weight="normal" stroke="#444" stroke-width="0.14" >+</text>
<text x="494.80" y="326.40" font-size="8.8" text-anchor="middle" fill="#000" font-weight="normal" stroke="#000" stroke-width="0.04" >NBM</text>
<text x="495.00" y="401.20" font-size="7.8" text-anchor="middle" fill="#000" font-weight="normal" stroke="#000" stroke-width="0.06" >Imatinib</text>
<line x1="478.40" y1="409.80" x2="478.40" y2="458.80" stroke="#111" stroke-width="1.8"/>
<line x1="476.00" y1="411.30" x2="478.40" y2="411.30" stroke="#111" stroke-width="1.0"/>
<text x="473.00" y="413.60" font-size="6.6" text-anchor="end" fill="#222" font-weight="normal" stroke="#222" stroke-width="0.06" ></text>
<line x1="476.00" y1="419.20" x2="478.40" y2="419.20" stroke="#111" stroke-width="1.0"/>
<line x1="477.00" y1="416.82" x2="478.40" y2="416.82" stroke="#111" stroke-width="0.5"/>
<line x1="477.00" y1="415.43" x2="478.40" y2="415.43" stroke="#111" stroke-width="0.5"/>
<line x1="477.00" y1="414.44" x2="478.40" y2="414.44" stroke="#111" stroke-width="0.5"/>
<line x1="477.00" y1="413.68" x2="478.40" y2="413.68" stroke="#111" stroke-width="0.5"/>
<line x1="477.00" y1="413.05" x2="478.40" y2="413.05" stroke="#111" stroke-width="0.5"/>
<line x1="477.00" y1="412.52" x2="478.40" y2="412.52" stroke="#111" stroke-width="0.5"/>
<line x1="477.00" y1="412.07" x2="478.40" y2="412.07" stroke="#111" stroke-width="0.5"/>
<line x1="477.00" y1="411.66" x2="478.40" y2="411.66" stroke="#111" stroke-width="0.5"/>
<text x="473.00" y="421.50" font-size="6.6" text-anchor="end" fill="#222" font-weight="normal" stroke="#222" stroke-width="0.06" >10</text>
<line x1="476.00" y1="427.10" x2="478.40" y2="427.10" stroke="#111" stroke-width="1.0"/>
<line x1="477.00" y1="424.72" x2="478.40" y2="424.72" stroke="#111" stroke-width="0.5"/>
<line x1="477.00" y1="423.33" x2="478.40" y2="423.33" stroke="#111" stroke-width="0.5"/>
<line x1="477.00" y1="422.34" x2="478.40" y2="422.34" stroke="#111" stroke-width="0.5"/>
<line x1="477.00" y1="421.58" x2="478.40" y2="421.58" stroke="#111" stroke-width="0.5"/>
<line x1="477.00" y1="420.95" x2="478.40" y2="420.95" stroke="#111" stroke-width="0.5"/>
<line x1="477.00" y1="420.42" x2="478.40" y2="420.42" stroke="#111" stroke-width="0.5"/>
<line x1="477.00" y1="419.97" x2="478.40" y2="419.97" stroke="#111" stroke-width="0.5"/>
<line x1="477.00" y1="419.56" x2="478.40" y2="419.56" stroke="#111" stroke-width="0.5"/>
<text x="473.00" y="429.40" font-size="6.6" text-anchor="end" fill="#222" font-weight="normal" stroke="#222" stroke-width="0.06" >1</text>
<line x1="476.00" y1="435.00" x2="478.40" y2="435.00" stroke="#111" stroke-width="1.0"/>
<line x1="477.00" y1="432.62" x2="478.40" y2="432.62" stroke="#111" stroke-width="0.5"/>
<line x1="477.00" y1="431.23" x2="478.40" y2="431.23" stroke="#111" stroke-width="0.5"/>
<line x1="477.00" y1="430.24" x2="478.40" y2="430.24" stroke="#111" stroke-width="0.5"/>
<line x1="477.00" y1="429.48" x2="478.40" y2="429.48" stroke="#111" stroke-width="0.5"/>
<line x1="477.00" y1="428.85" x2="478.40" y2="428.85" stroke="#111" stroke-width="0.5"/>
<line x1="477.00" y1="428.32" x2="478.40" y2="428.32" stroke="#111" stroke-width="0.5"/>
<line x1="477.00" y1="427.87" x2="478.40" y2="427.87" stroke="#111" stroke-width="0.5"/>
<line x1="477.00" y1="427.46" x2="478.40" y2="427.46" stroke="#111" stroke-width="0.5"/>
<text x="473.00" y="437.30" font-size="6.6" text-anchor="end" fill="#222" font-weight="normal" stroke="#222" stroke-width="0.06" >0.1</text>
<line x1="476.00" y1="442.90" x2="478.40" y2="442.90" stroke="#111" stroke-width="1.0"/>
<line x1="477.00" y1="440.52" x2="478.40" y2="440.52" stroke="#111" stroke-width="0.5"/>
<line x1="477.00" y1="439.13" x2="478.40" y2="439.13" stroke="#111" stroke-width="0.5"/>
<line x1="477.00" y1="438.14" x2="478.40" y2="438.14" stroke="#111" stroke-width="0.5"/>
<line x1="477.00" y1="437.38" x2="478.40" y2="437.38" stroke="#111" stroke-width="0.5"/>
<line x1="477.00" y1="436.75" x2="478.40" y2="436.75" stroke="#111" stroke-width="0.5"/>
<line x1="477.00" y1="436.22" x2="478.40" y2="436.22" stroke="#111" stroke-width="0.5"/>
<line x1="477.00" y1="435.77" x2="478.40" y2="435.77" stroke="#111" stroke-width="0.5"/>
<line x1="477.00" y1="435.36" x2="478.40" y2="435.36" stroke="#111" stroke-width="0.5"/>
<text x="473.00" y="445.20" font-size="6.6" text-anchor="end" fill="#222" font-weight="normal" stroke="#222" stroke-width="0.06" >0.01</text>
<line x1="476.00" y1="450.80" x2="478.40" y2="450.80" stroke="#111" stroke-width="1.0"/>
<line x1="477.00" y1="448.42" x2="478.40" y2="448.42" stroke="#111" stroke-width="0.5"/>
<line x1="477.00" y1="447.03" x2="478.40" y2="447.03" stroke="#111" stroke-width="0.5"/>
<line x1="477.00" y1="446.04" x2="478.40" y2="446.04" stroke="#111" stroke-width="0.5"/>
<line x1="477.00" y1="445.28" x2="478.40" y2="445.28" stroke="#111" stroke-width="0.5"/>
<line x1="477.00" y1="444.65" x2="478.40" y2="444.65" stroke="#111" stroke-width="0.5"/>
<line x1="477.00" y1="444.12" x2="478.40" y2="444.12" stroke="#111" stroke-width="0.5"/>
<line x1="477.00" y1="443.67" x2="478.40" y2="443.67" stroke="#111" stroke-width="0.5"/>
<line x1="477.00" y1="443.26" x2="478.40" y2="443.26" stroke="#111" stroke-width="0.5"/>
<text x="473.00" y="453.10" font-size="6.6" text-anchor="end" fill="#222" font-weight="normal" stroke="#222" stroke-width="0.06" >0.001</text>
<line x1="476.00" y1="458.70" x2="478.40" y2="458.70" stroke="#111" stroke-width="1.0"/>
<line x1="477.00" y1="456.32" x2="478.40" y2="456.32" stroke="#111" stroke-width="0.5"/>
<line x1="477.00" y1="454.93" x2="478.40" y2="454.93" stroke="#111" stroke-width="0.5"/>
<line x1="477.00" y1="453.94" x2="478.40" y2="453.94" stroke="#111" stroke-width="0.5"/>
<line x1="477.00" y1="453.18" x2="478.40" y2="453.18" stroke="#111" stroke-width="0.5"/>
<line x1="477.00" y1="452.55" x2="478.40" y2="452.55" stroke="#111" stroke-width="0.5"/>
<line x1="477.00" y1="452.02" x2="478.40" y2="452.02" stroke="#111" stroke-width="0.5"/>
<line x1="477.00" y1="451.57" x2="478.40" y2="451.57" stroke="#111" stroke-width="0.5"/>
<line x1="477.00" y1="451.16" x2="478.40" y2="451.16" stroke="#111" stroke-width="0.5"/>
<text x="473.00" y="461.00" font-size="6.6" text-anchor="end" fill="#222" font-weight="normal" stroke="#222" stroke-width="0.06" >0.0001</text>
<line x1="477.50" y1="458.80" x2="513.10" y2="458.80" stroke="#111" stroke-width="1.8"/>
<line x1="486.50" y1="458.80" x2="486.50" y2="461.80" stroke="#111" stroke-width="1.0"/>
<text x="486.50" y="469.00" font-size="6.4" text-anchor="middle" fill="#444" font-weight="normal" stroke="#444" stroke-width="0.14" >-</text>
<line x1="503.30" y1="458.80" x2="503.30" y2="461.80" stroke="#111" stroke-width="1.0"/>
<text x="503.30" y="469.00" font-size="6.4" text-anchor="middle" fill="#444" font-weight="normal" stroke="#444" stroke-width="0.14" >+</text>
<text x="494.90" y="401.80" font-size="7.8" text-anchor="middle" fill="#000" font-weight="normal" stroke="#000" stroke-width="0.14" ></text>
<text x="495.60" y="479.60" font-size="7.8" text-anchor="middle" fill="#000" font-weight="normal" stroke="#000" stroke-width="0.06" >Imatinib</text>
<circle cx="486.60" cy="346.60" r="1.6" fill="#9a2a58"/>
<circle cx="486.60" cy="348.00" r="1.6" fill="#9a2a58"/>
<circle cx="486.60" cy="349.40" r="1.6" fill="#9a2a58"/>
<circle cx="486.60" cy="362.20" r="1.6" fill="#9a2a58"/>
<circle cx="486.60" cy="371.30" r="1.6" fill="#9a2a58"/>
<circle cx="503.50" cy="339.10" r="1.5" fill="#34507e"/>
<circle cx="503.50" cy="341.20" r="1.5" fill="#34507e"/>
<circle cx="503.50" cy="344.70" r="1.5" fill="#34507e"/>
<circle cx="503.50" cy="349.80" r="1.5" fill="#34507e"/>
<circle cx="503.50" cy="371.30" r="1.5" fill="#34507e"/>
<line x1="486.60" y1="347.60" x2="503.50" y2="339.10" stroke="#111" stroke-width="1.0"/>
<line x1="486.60" y1="347.80" x2="503.50" y2="341.20" stroke="#111" stroke-width="1.0"/>
<line x1="486.60" y1="348.00" x2="503.50" y2="344.70" stroke="#111" stroke-width="1.0"/>
<line x1="486.60" y1="371.30" x2="503.50" y2="349.80" stroke="#111" stroke-width="1.0"/>
<line x1="486.60" y1="362.00" x2="503.50" y2="371.30" stroke="#111" stroke-width="1.0"/>
<line x1="486.60" y1="362.60" x2="503.50" y2="371.30" stroke="#111" stroke-width="1.0"/>
<line x1="486.60" y1="371.30" x2="503.50" y2="371.30" stroke="#111" stroke-width="1.0"/>
<circle cx="487.00" cy="423.00" r="1.5" fill="#9a2a58"/>
<circle cx="487.00" cy="424.60" r="1.5" fill="#9a2a58"/>
<circle cx="487.00" cy="426.20" r="1.5" fill="#9a2a58"/>
<circle cx="487.00" cy="427.80" r="1.5" fill="#9a2a58"/>
<circle cx="504.20" cy="411.70" r="1.5" fill="#34507e"/>
<circle cx="504.20" cy="413.20" r="1.5" fill="#34507e"/>
<circle cx="504.20" cy="414.80" r="1.5" fill="#34507e"/>
<circle cx="504.20" cy="420.90" r="1.5" fill="#34507e"/>
<circle cx="504.20" cy="427.10" r="1.5" fill="#34507e"/>
<circle cx="504.20" cy="433.80" r="1.5" fill="#34507e"/>
<line x1="486.40" y1="424.50" x2="504.20" y2="411.70" stroke="#111" stroke-width="1.0"/>
<line x1="486.40" y1="425.00" x2="504.20" y2="413.20" stroke="#111" stroke-width="1.0"/>
<line x1="486.40" y1="425.50" x2="504.20" y2="414.80" stroke="#111" stroke-width="1.0"/>
<line x1="486.40" y1="426.00" x2="504.20" y2="420.90" stroke="#111" stroke-width="1.0"/>
<line x1="486.40" y1="450.20" x2="504.20" y2="427.10" stroke="#111" stroke-width="1.0"/>
<line x1="486.40" y1="450.20" x2="504.20" y2="433.80" stroke="#111" stroke-width="1.0"/>
<circle cx="486.40" cy="450.20" r="1.5" fill="#9a2a58"/>
</svg></body></html>
